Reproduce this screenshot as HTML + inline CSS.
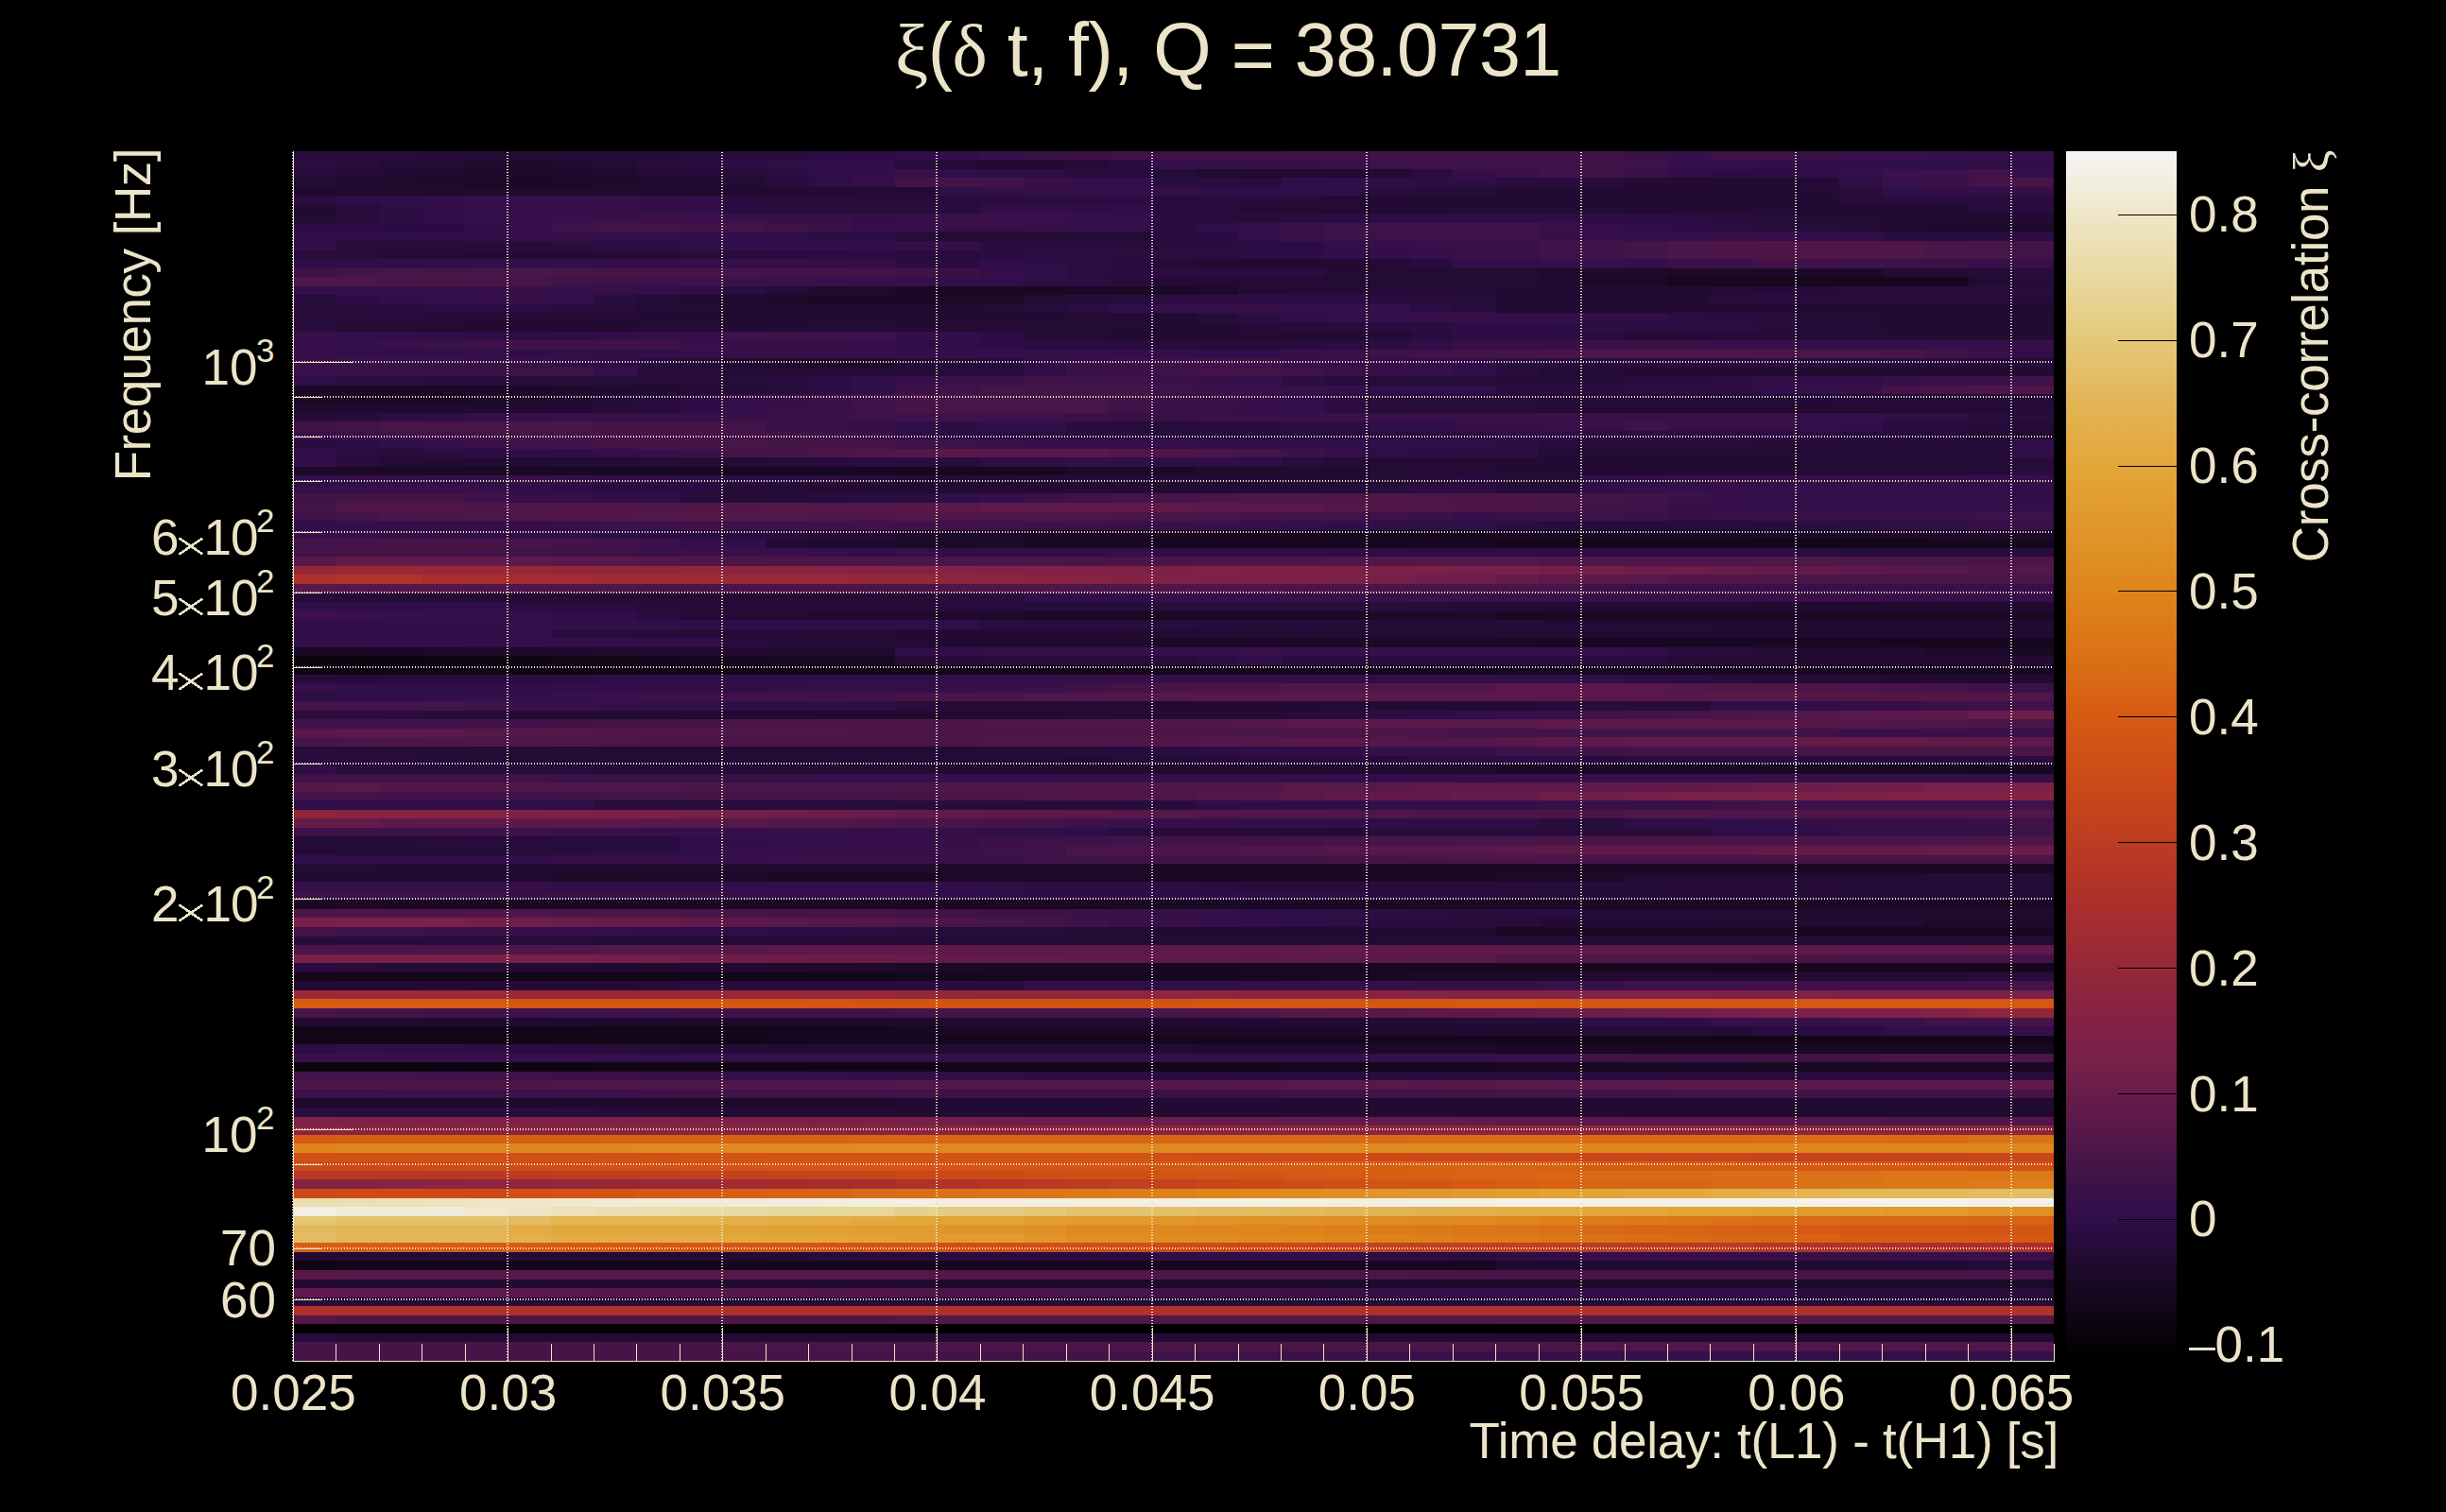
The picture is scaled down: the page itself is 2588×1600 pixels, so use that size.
<!DOCTYPE html>
<html><head><meta charset="utf-8"><title>xi</title>
<style>
html,body{margin:0;padding:0;background:#000;}
body{width:2588px;height:1600px;position:relative;overflow:hidden;font-family:"Liberation Sans",sans-serif;color:#ece4c8;}
#h{position:absolute;left:310px;top:160px;width:1863px;height:1280px;}
#h i{position:absolute;left:0;width:100%;display:block}
#cb{position:absolute;left:2186px;top:160px;width:117px;height:1280px;background:linear-gradient(180deg,#f5f5f5 0.00%,#efe6c8 5.25%,#e8d9a0 10.45%,#e4c878 15.64%,#e2b555 20.83%,#e3a638 26.02%,#e0962a 31.21%,#de851c 36.40%,#db7217 41.59%,#d65a13 46.79%,#cd4a17 51.98%,#bc3c22 57.17%,#ab2e2c 62.36%,#952838 67.55%,#802147 72.74%,#78204a 75.34%,#681c4a 77.94%,#5a184a 80.53%,#4a1548 83.13%,#3c1149 85.72%,#300e4a 88.32%,#240b36 90.91%,#1a0824 93.51%,#100515 96.11%,#050205 98.70%,#000000 100.00%)}
svg{position:absolute;left:0;top:0;shape-rendering:crispEdges}
.g{stroke:#f0ead2;stroke-width:2;stroke-dasharray:1 2}
.t{stroke:#ece4c8;stroke-width:1}
.a{stroke:#ece4c8;stroke-width:1}
.c{stroke:#000;stroke-width:1}
.l{position:absolute;white-space:nowrap;font-size:53px;line-height:60px;height:60px}
.yl{text-align:right;right:2297.5px}
.yl sup{font-size:35px;line-height:0;position:relative;top:-24px;vertical-align:baseline;margin-left:-1.5px}
.yl svg{position:static;display:inline-block;margin:0 0.5px 0 -0.5px;vertical-align:baseline;overflow:visible}
.mn{display:inline-block;width:27.5px;height:2.8px;background:#ece4c8;vertical-align:12.2px}
.xl{width:300px;margin-left:-150px;text-align:center;top:1444px}
.cl{left:2316px}
.gk{font-family:"Liberation Serif",serif}
.rot{transform-origin:0 0;transform:rotate(-90deg);text-align:right}
</style></head><body>

<div id="h"><i style="top:0px;height:9px;background:linear-gradient(90deg,#2a0d40 0px 46px,#290c3e 46px 91px,#270c3b 91px 137px,#260b39 137px 182px,#240b36 182px 228px,#230b34 228px 273px,#240b35 273px 318px,#240b37 318px 364px,#250b38 364px 409px,#260c3a 409px 455px,#270c3c 455px 500px,#290c3f 500px 546px,#2c0d43 546px 591px,#2e0d46 591px 637px,#300e4a 637px 682px,#320f4a 682px 727px,#36104a 727px 773px,#3a1049 773px 818px,#3c1149 818px 864px,#3f1249 864px 909px,#3d1149 909px 1046px,#3e1249 1046px 1136px,#3f1249 1136px 1182px,#401249 1182px 1364px,#3f1249 1364px 1409px,#3a1049 1409px 1454px,#381049 1454px 1500px,#3d1149 1500px 1591px,#3a1049 1591px 1636px,#391049 1636px 1727px,#381049 1727px 1773px,#340f4a 1773px 1863px)"></i><i style="top:9px;height:10px;background:linear-gradient(90deg,#2b0d42 0px 46px,#280c3d 46px 91px,#250b38 91px 137px,#230b34 137px 182px,#200a30 182px 228px,#1e092b 228px 273px,#210a30 273px 318px,#230b35 318px 364px,#270c3a 364px 409px,#2a0c40 409px 455px,#2d0d45 455px 500px,#2f0e48 500px 546px,#300e4a 546px 591px,#310e4a 591px 637px,#260c3a 637px 682px,#240b35 682px 727px,#220a32 727px 818px,#260b39 818px 864px,#2a0c40 864px 909px,#340f4a 909px 955px,#350f4a 955px 1000px,#371049 1000px 1046px,#381049 1046px 1091px,#3a1049 1091px 1136px,#3d1149 1136px 1182px,#3e1149 1182px 1227px,#3f1249 1227px 1273px,#401249 1273px 1364px,#421349 1364px 1409px,#3d1149 1409px 1454px,#381049 1454px 1500px,#340f4a 1500px 1545px,#330f4a 1545px 1591px,#310e4a 1591px 1682px,#300e4a 1682px 1727px,#2f0e49 1727px 1773px,#2f0e48 1773px 1818px,#300e4a 1818px 1863px)"></i><i style="top:19px;height:9px;background:linear-gradient(90deg,#260c3a 0px 46px,#240b36 46px 91px,#220a32 91px 137px,#200a2f 137px 182px,#1e092b 182px 228px,#1c0928 228px 273px,#1e092c 273px 318px,#200a30 318px 364px,#230b34 364px 409px,#250b38 409px 455px,#280c3c 455px 500px,#2b0d42 500px 546px,#2f0e48 546px 591px,#320f4a 591px 637px,#3a1049 637px 682px,#300e4a 682px 727px,#2f0e48 727px 773px,#2c0d44 773px 818px,#2a0c40 818px 864px,#280c3d 864px 909px,#260c3a 909px 955px,#200a2f 955px 1136px,#230b34 1136px 1182px,#290c3f 1182px 1227px,#360f4a 1227px 1273px,#3a1049 1273px 1318px,#401249 1318px 1364px,#3f1249 1364px 1409px,#381049 1409px 1454px,#310e4a 1454px 1500px,#2c0d43 1500px 1591px,#300e4a 1591px 1636px,#340f4a 1636px 1682px,#3d1149 1682px 1773px,#3f1249 1773px 1818px,#340f4a 1818px 1863px)"></i><i style="top:28px;height:10px;background:linear-gradient(90deg,#230b34 0px 46px,#210a31 46px 91px,#1f0a2e 91px 137px,#1e092a 137px 182px,#1c0927 182px 228px,#1a0824 228px 273px,#1c0927 273px 318px,#1e092a 318px 364px,#1f0a2e 364px 409px,#210a31 409px 455px,#230b34 455px 500px,#280c3d 500px 546px,#2e0e47 546px 591px,#340f4a 591px 637px,#441348 637px 727px,#421349 727px 773px,#3a1049 773px 818px,#360f4a 818px 864px,#310e4a 864px 909px,#2a0d40 909px 955px,#290c3f 955px 1000px,#280c3d 1000px 1046px,#300e4a 1046px 1091px,#2f0e49 1091px 1136px,#2f0e48 1136px 1273px,#290c3f 1273px 1318px,#290c3e 1318px 1364px,#280c3c 1364px 1409px,#230b34 1409px 1591px,#240b35 1591px 1636px,#2f0e48 1636px 1682px,#381049 1682px 1727px,#3a1049 1727px 1773px,#441348 1773px 1818px,#481548 1818px 1863px)"></i><i style="top:38px;height:9px;background:linear-gradient(90deg,#1f0a2d 0px 46px,#1f0a2e 46px 91px,#200a2e 91px 182px,#200a2f 182px 318px,#200a30 318px 364px,#210a30 364px 409px,#210a31 409px 500px,#220a32 500px 546px,#230b33 546px 591px,#230b35 591px 637px,#240b37 637px 682px,#300e4a 682px 727px,#340f4a 727px 955px,#320e4a 955px 1000px,#300e4a 1000px 1046px,#2f0e49 1046px 1091px,#2f0e48 1091px 1136px,#2a0d40 1136px 1182px,#260c3a 1182px 1273px,#220a32 1273px 1591px,#230b34 1591px 1636px,#280c3c 1636px 1682px,#300e4a 1682px 1727px,#310e4a 1727px 1773px,#340f4a 1773px 1818px,#360f4a 1818px 1863px)"></i><i style="top:47px;height:10px;background:linear-gradient(90deg,#2b0d42 0px 46px,#2e0e47 46px 91px,#310e4a 91px 137px,#330f4a 137px 182px,#340f4a 182px 228px,#360f4a 228px 273px,#350f4a 273px 318px,#340f4a 318px 364px,#330f4a 364px 409px,#320f4a 409px 455px,#2a0c40 455px 500px,#290c3e 500px 546px,#280c3c 546px 591px,#260c3a 591px 682px,#290c3f 682px 727px,#2a0c40 727px 773px,#2a0d41 773px 818px,#2b0d42 818px 864px,#2c0d43 864px 909px,#290c3e 909px 955px,#280c3d 955px 1000px,#270c3b 1000px 1046px,#260c3a 1046px 1091px,#230b34 1091px 1136px,#220a32 1136px 1636px,#270c3c 1636px 1682px,#290c3e 1682px 1727px,#290c3f 1727px 1773px,#2a0c40 1773px 1863px)"></i><i style="top:57px;height:9px;background:linear-gradient(90deg,#220a32 0px 46px,#270c3b 46px 91px,#2c0d44 91px 137px,#310e4a 137px 182px,#340f4a 182px 228px,#360f4a 228px 273px,#350f4a 273px 318px,#340f4a 318px 364px,#330f4a 364px 409px,#320f4a 409px 455px,#2a0c40 455px 500px,#290c3e 500px 546px,#280c3d 546px 591px,#270c3c 591px 637px,#280c3c 637px 682px,#290c3e 682px 727px,#310e4a 727px 909px,#290c3e 909px 955px,#260c3a 955px 1000px,#240b35 1000px 1046px,#230b34 1046px 1091px,#220a32 1091px 1136px,#230b35 1136px 1227px,#240b35 1227px 1591px,#210a31 1591px 1773px,#270c3c 1773px 1818px,#290c3e 1818px 1863px)"></i><i style="top:66px;height:10px;background:linear-gradient(90deg,#230b34 0px 46px,#280c3c 46px 91px,#2c0d44 91px 137px,#310e4a 137px 182px,#340f4a 182px 228px,#360f4a 228px 273px,#371049 273px 318px,#381049 318px 364px,#3a1049 364px 409px,#391049 409px 455px,#381049 455px 500px,#360f4a 500px 546px,#340f4a 546px 591px,#310e4a 591px 637px,#340f4a 637px 682px,#3a1049 682px 727px,#391049 727px 818px,#381049 818px 864px,#340f4a 864px 909px,#2a0d40 909px 955px,#290c3e 955px 1000px,#280c3c 1000px 1046px,#2a0c40 1046px 1091px,#2c0d43 1091px 1136px,#2c0d44 1136px 1182px,#2d0d45 1182px 1227px,#2e0d46 1227px 1409px,#2d0d44 1409px 1454px,#2b0d42 1454px 1500px,#2a0d40 1500px 1545px,#260c3a 1545px 1591px,#240b35 1591px 1636px,#230b34 1636px 1682px,#220a32 1682px 1727px,#210a31 1727px 1773px,#200a2f 1773px 1818px,#220a32 1818px 1863px)"></i><i style="top:76px;height:9px;background:linear-gradient(90deg,#2b0d42 0px 46px,#2b0d41 46px 91px,#2a0d40 91px 137px,#2a0c40 137px 182px,#300e4a 182px 228px,#360f4a 228px 273px,#3d1149 273px 318px,#441348 318px 409px,#431348 409px 455px,#431349 455px 500px,#3e1249 500px 546px,#3a1049 546px 591px,#360f4a 591px 682px,#3a1049 682px 727px,#391049 727px 773px,#381049 773px 818px,#36104a 818px 864px,#340f4a 864px 909px,#2a0d40 909px 955px,#300e4a 955px 1000px,#340f4a 1000px 1046px,#3a1049 1046px 1091px,#3d1149 1091px 1136px,#3f1249 1136px 1318px,#3a1049 1318px 1364px,#360f4a 1364px 1409px,#310e4a 1409px 1454px,#2e0d46 1454px 1500px,#2a0d40 1500px 1545px,#260c3a 1545px 1636px,#230b34 1636px 1682px,#200a2f 1682px 1727px,#1f092c 1727px 1773px,#1d092a 1773px 1863px)"></i><i style="top:85px;height:10px;background:linear-gradient(90deg,#310e4a 0px 182px,#330f4a 182px 228px,#360f4a 228px 273px,#350f4a 273px 409px,#330f4a 409px 455px,#320e4a 455px 500px,#300e4a 500px 546px,#2e0d47 546px 591px,#2c0d43 591px 637px,#260c3a 637px 682px,#230b34 682px 773px,#230b35 773px 864px,#240b35 864px 909px,#290c3e 909px 955px,#2a0d40 955px 1000px,#340f4a 1000px 1046px,#3a1049 1046px 1091px,#3d1149 1091px 1318px,#381049 1318px 1364px,#360f4a 1364px 1409px,#350f4a 1409px 1454px,#340f4a 1454px 1500px,#350f4a 1500px 1545px,#360f4a 1545px 1591px,#310e4a 1591px 1636px,#300e4a 1636px 1682px,#2a0d40 1682px 1727px,#280c3d 1727px 1773px,#290c3f 1773px 1818px,#2c0d43 1818px 1863px)"></i><i style="top:95px;height:10px;background:linear-gradient(90deg,#310e4a 0px 46px,#280c3c 46px 182px,#270c3c 182px 273px,#2a0c3f 273px 318px,#2c0d43 318px 364px,#2e0d47 364px 409px,#300e4a 409px 455px,#320f4a 455px 637px,#340f4a 637px 727px,#2a0d40 727px 773px,#290c3f 773px 818px,#290c3e 818px 864px,#280c3c 864px 909px,#290c3e 909px 955px,#2a0d40 955px 1000px,#2c0d43 1000px 1091px,#340f4a 1091px 1136px,#360f4a 1136px 1182px,#381049 1182px 1227px,#3a1049 1227px 1318px,#3f1249 1318px 1364px,#401249 1364px 1409px,#441348 1409px 1454px,#4a1548 1454px 1500px,#4b1548 1500px 1545px,#4c1548 1545px 1591px,#4e1649 1591px 1727px,#4a1548 1727px 1773px,#481548 1773px 1818px,#441348 1818px 1863px)"></i><i style="top:105px;height:9px;background:linear-gradient(90deg,#270c3c 0px 46px,#270c3a 46px 91px,#260b39 91px 137px,#250b38 137px 182px,#240b36 182px 228px,#240b35 228px 273px,#250b37 273px 318px,#260b39 318px 364px,#270c3a 364px 409px,#280c3c 409px 455px,#290c3e 455px 500px,#290c3f 500px 546px,#2a0d40 546px 591px,#2b0d41 591px 637px,#280c3c 637px 682px,#290c3e 682px 727px,#2a0d40 727px 773px,#2c0d43 773px 818px,#2b0d42 818px 909px,#2b0d41 909px 955px,#2c0d43 955px 1000px,#2d0d46 1000px 1046px,#2f0e48 1046px 1091px,#300e4a 1091px 1136px,#310e4a 1136px 1182px,#350f4a 1182px 1227px,#381049 1227px 1318px,#3f1249 1318px 1364px,#401249 1364px 1409px,#441348 1409px 1454px,#4a1548 1454px 1500px,#4b1548 1500px 1545px,#4c1548 1545px 1591px,#4e1649 1591px 1727px,#4a1548 1727px 1773px,#481548 1773px 1818px,#441348 1818px 1863px)"></i><i style="top:114px;height:10px;background:linear-gradient(90deg,#300e4a 0px 46px,#310e4a 46px 137px,#320e4a 137px 182px,#320f4a 182px 228px,#330f4a 228px 409px,#340f4a 409px 637px,#2c0d43 637px 682px,#2a0c40 682px 727px,#310e4a 727px 773px,#2e0e47 773px 818px,#2b0d42 818px 864px,#290c3e 864px 909px,#250b38 909px 955px,#220a32 955px 1136px,#240b35 1136px 1182px,#290c3f 1182px 1227px,#310e4a 1227px 1273px,#300e4a 1273px 1318px,#360f4a 1318px 1364px,#381049 1364px 1409px,#360f4a 1409px 1454px,#3a1049 1454px 1545px,#421349 1545px 1591px,#401249 1591px 1636px,#3f1249 1636px 1682px,#3c1149 1682px 1727px,#3a1049 1727px 1773px,#381049 1773px 1863px)"></i><i style="top:124px;height:9px;background:linear-gradient(90deg,#3f1249 0px 46px,#441348 46px 91px,#481548 91px 137px,#491548 137px 228px,#4a1548 228px 273px,#491548 273px 318px,#481548 318px 364px,#481448 364px 409px,#471448 409px 455px,#461448 455px 546px,#451448 546px 591px,#441348 591px 637px,#3f1249 637px 682px,#3a1049 682px 727px,#360f4a 727px 773px,#310e4a 773px 818px,#2a0d40 818px 909px,#2d0d44 909px 955px,#2c0d43 955px 1000px,#2b0d42 1000px 1046px,#2a0d40 1046px 1091px,#240b37 1091px 1136px,#240b35 1136px 1182px,#230b35 1182px 1227px,#230b34 1227px 1318px,#1f092d 1318px 1454px,#1c0928 1454px 1591px,#1d092a 1591px 1682px,#230b34 1682px 1727px,#240b35 1727px 1773px,#250b38 1773px 1818px,#280c3c 1818px 1863px)"></i><i style="top:133px;height:10px;background:linear-gradient(90deg,#4e1649 0px 46px,#4d1648 46px 91px,#4c1548 91px 137px,#4b1548 137px 182px,#491548 182px 228px,#471448 228px 273px,#3f1249 273px 318px,#3e1149 318px 364px,#3d1149 364px 409px,#3c1149 409px 455px,#3b1149 455px 500px,#3a1049 500px 546px,#391049 546px 591px,#381049 591px 637px,#360f4a 637px 682px,#340f4a 682px 727px,#300e4a 727px 773px,#2e0d46 773px 818px,#2c0d43 818px 864px,#280c3c 864px 909px,#240b35 909px 955px,#230b35 955px 1091px,#230b34 1091px 1318px,#200a2f 1318px 1364px,#1c0928 1364px 1454px,#180721 1454px 1500px,#16071e 1500px 1682px,#180721 1682px 1773px,#220a32 1773px 1818px,#250b38 1818px 1863px)"></i><i style="top:143px;height:9px;background:linear-gradient(90deg,#340f4a 0px 46px,#350f4a 46px 91px,#360f4a 91px 137px,#361049 137px 182px,#371049 182px 228px,#381049 228px 273px,#361049 273px 318px,#340f4a 318px 364px,#320f4a 364px 409px,#300e4a 409px 455px,#2a0d40 455px 500px,#250b37 500px 546px,#200a2f 546px 637px,#1b0826 637px 682px,#1a0824 682px 909px,#1c0928 909px 955px,#1e092b 955px 1000px,#230b35 1000px 1046px,#240b35 1046px 1091px,#240b36 1091px 1136px,#240b37 1136px 1273px,#220a32 1273px 1500px,#230b34 1500px 1545px,#240b37 1545px 1591px,#250b38 1591px 1636px,#280c3c 1636px 1773px,#290c3e 1773px 1818px,#2a0c40 1818px 1863px)"></i><i style="top:152px;height:10px;background:linear-gradient(90deg,#270c3c 0px 46px,#2c0d43 46px 91px,#300e4a 91px 137px,#320f4a 137px 182px,#350f4a 182px 228px,#371049 228px 273px,#320f4a 273px 318px,#2a0d40 318px 364px,#250b37 364px 409px,#200a2f 409px 500px,#1e092a 500px 546px,#1b0826 546px 682px,#1c0928 682px 773px,#230b34 773px 818px,#260b39 818px 864px,#290c3f 864px 909px,#2c0d43 909px 955px,#2d0d44 955px 1000px,#2e0d46 1000px 1046px,#2d0d44 1046px 1091px,#2c0d43 1091px 1136px,#2a0c40 1136px 1182px,#280c3d 1182px 1227px,#260c3a 1227px 1273px,#220a32 1273px 1500px,#270c3c 1500px 1545px,#2a0d40 1545px 1591px,#290c3e 1591px 1773px,#260c3a 1773px 1818px,#250b38 1818px 1863px)"></i><i style="top:162px;height:9px;background:linear-gradient(90deg,#270c3c 0px 46px,#280c3d 46px 91px,#290c3f 91px 137px,#2b0d41 137px 182px,#2c0d43 182px 228px,#2d0d44 228px 273px,#2a0c40 273px 318px,#270c3b 318px 364px,#240b37 364px 409px,#230b35 409px 455px,#220a32 455px 637px,#200a2f 637px 682px,#220a32 682px 727px,#240b36 727px 773px,#260c3a 773px 818px,#2c0d43 818px 864px,#300e4a 864px 909px,#340f4a 909px 1000px,#381049 1000px 1136px,#340f4a 1136px 1182px,#2c0d43 1182px 1227px,#290c3f 1227px 1273px,#220a32 1273px 1591px,#210a31 1591px 1863px)"></i><i style="top:171px;height:10px;background:linear-gradient(90deg,#270c3c 0px 46px,#270c3b 46px 91px,#260c3a 91px 137px,#260b39 137px 182px,#250b38 182px 228px,#240b37 228px 273px,#240b35 273px 318px,#230b34 318px 364px,#220a33 364px 409px,#220a32 409px 455px,#210a30 455px 500px,#210a31 500px 546px,#220a32 546px 637px,#210a30 637px 682px,#220a32 682px 727px,#220a33 727px 773px,#220b33 773px 818px,#230b33 818px 864px,#230b34 864px 909px,#220a32 909px 955px,#260c3a 955px 1000px,#2c0d43 1000px 1046px,#300e4a 1046px 1091px,#320e4a 1091px 1136px,#340f4a 1136px 1182px,#360f4a 1182px 1273px,#340f4a 1273px 1364px,#310e4a 1364px 1454px,#2c0d43 1454px 1500px,#290c3f 1500px 1545px,#280c3c 1545px 1591px,#240b37 1591px 1682px,#220a32 1682px 1863px)"></i><i style="top:181px;height:10px;background:linear-gradient(90deg,#280c3c 0px 46px,#230b34 46px 91px,#230b33 91px 137px,#220b33 137px 182px,#220a33 182px 228px,#220a32 228px 273px,#220a33 273px 318px,#220b33 318px 364px,#230b34 364px 455px,#230b35 455px 591px,#240b35 591px 682px,#230b34 682px 909px,#220a32 909px 1000px,#250b38 1000px 1046px,#260c3a 1046px 1091px,#280c3c 1091px 1136px,#290c3e 1136px 1182px,#2b0d42 1182px 1227px,#2e0d46 1227px 1318px,#2d0d45 1318px 1364px,#2d0d44 1364px 1409px,#2c0d44 1409px 1454px,#2c0d43 1454px 1545px,#280c3c 1545px 1591px,#260c3a 1591px 1636px,#240b35 1636px 1682px,#220a32 1682px 1863px)"></i><i style="top:191px;height:9px;background:linear-gradient(90deg,#360f4a 0px 46px,#330f4a 46px 91px,#310e4a 91px 137px,#2f0e48 137px 182px,#2e0d46 182px 228px,#2d0d44 228px 273px,#2f0e48 273px 318px,#310e4a 318px 364px,#330f4a 364px 409px,#360f4a 409px 455px,#3f1249 455px 500px,#3e1249 500px 546px,#3d1149 546px 637px,#340f4a 637px 682px,#310e4a 682px 727px,#2c0d43 727px 773px,#240b37 773px 818px,#230b34 818px 864px,#220b33 864px 909px,#220a32 909px 1136px,#240b37 1136px 1182px,#290c3e 1182px 1227px,#2d0d44 1227px 1364px,#290c3f 1364px 1409px,#250b38 1409px 1591px,#230b35 1591px 1773px,#230b34 1773px 1863px)"></i><i style="top:200px;height:10px;background:linear-gradient(90deg,#360f4a 0px 46px,#371049 46px 91px,#391049 91px 137px,#3a1149 137px 182px,#3c1149 182px 228px,#401249 228px 318px,#3f1249 318px 409px,#391049 409px 455px,#381049 455px 500px,#371049 500px 591px,#360f4a 591px 637px,#310e4a 637px 727px,#2e0d46 727px 773px,#2a0d40 773px 909px,#280c3c 909px 955px,#270c3b 955px 1000px,#260c3a 1000px 1046px,#290c3f 1046px 1091px,#2a0d41 1091px 1136px,#2c0d43 1136px 1182px,#310e4a 1182px 1227px,#360f4a 1227px 1318px,#381049 1318px 1364px,#3a1049 1364px 1500px,#381049 1500px 1545px,#371049 1545px 1591px,#360f4a 1591px 1636px,#350f4a 1636px 1682px,#340f4a 1682px 1863px)"></i><i style="top:210px;height:9px;background:linear-gradient(90deg,#340f4a 0px 46px,#330f4a 46px 137px,#320f4a 137px 182px,#320e4a 182px 228px,#310e4a 228px 273px,#320f4a 273px 318px,#330f4a 318px 409px,#340f4a 409px 455px,#350f4a 455px 591px,#360f4a 591px 727px,#350f4a 727px 773px,#340f4a 773px 955px,#330f4a 955px 1000px,#310e4a 1000px 1046px,#381049 1046px 1091px,#3a1049 1091px 1136px,#3d1149 1136px 1182px,#401249 1182px 1227px,#441348 1227px 1318px,#481548 1318px 1364px,#4a1548 1364px 1409px,#4c1548 1409px 1591px,#4a1548 1591px 1682px,#471448 1682px 1727px,#401249 1727px 1773px,#3a1049 1773px 1818px,#310e4a 1818px 1863px)"></i><i style="top:219px;height:10px;background:linear-gradient(90deg,#3a1049 0px 273px,#340f4a 273px 318px,#2f0e48 318px 364px,#2a0d40 364px 409px,#260c3a 409px 455px,#210a30 455px 500px,#200a2f 500px 546px,#1f0a2e 546px 591px,#1f092d 591px 637px,#250b38 637px 682px,#260c3a 682px 727px,#290c3f 727px 773px,#300e4a 773px 818px,#3a1049 818px 864px,#3b1149 864px 909px,#3d1149 909px 955px,#3f1249 955px 1000px,#401249 1000px 1046px,#3a1049 1046px 1091px,#381049 1091px 1136px,#360f4a 1136px 1182px,#340f4a 1182px 1227px,#300e4a 1227px 1273px,#2a0d40 1273px 1318px,#2a0c40 1318px 1364px,#290c3f 1364px 1454px,#2a0c3f 1454px 1500px,#2a0c40 1500px 1545px,#2a0d40 1545px 1636px,#290c3f 1636px 1682px,#290c3e 1682px 1727px,#280c3d 1727px 1773px,#270c3b 1773px 1818px,#260c3a 1818px 1863px)"></i><i style="top:229px;height:9px;background:linear-gradient(90deg,#3a1049 0px 228px,#3e1149 228px 318px,#340f4a 318px 364px,#290c3e 364px 409px,#280c3c 409px 455px,#240b35 455px 682px,#260c3a 682px 727px,#290c3f 727px 773px,#310e4a 773px 818px,#3a1049 818px 864px,#3c1149 864px 909px,#3f1249 909px 955px,#421349 955px 1046px,#3d1149 1046px 1091px,#3a1049 1091px 1136px,#360f4a 1136px 1182px,#340f4a 1182px 1227px,#300e4a 1227px 1273px,#290c3f 1273px 1318px,#240b37 1318px 1364px,#250b38 1364px 1409px,#220a32 1409px 1591px,#200a2f 1591px 1773px,#220a32 1773px 1863px)"></i><i style="top:238px;height:10px;background:linear-gradient(90deg,#300e4a 0px 46px,#2e0d47 46px 91px,#2c0d43 91px 137px,#2a0c40 137px 182px,#280c3c 182px 228px,#260c3a 228px 500px,#2a0c3f 500px 546px,#2d0d45 546px 591px,#300e4a 591px 637px,#360f4a 637px 682px,#3a1049 682px 727px,#3c1149 727px 773px,#3f1249 773px 909px,#3a1049 909px 955px,#371049 955px 1000px,#340f4a 1000px 1046px,#2e0d46 1046px 1091px,#290c3f 1091px 1136px,#260c3a 1136px 1273px,#240b37 1273px 1318px,#250b37 1318px 1364px,#250b38 1364px 1409px,#280c3c 1409px 1454px,#2a0c40 1454px 1500px,#2c0d43 1500px 1545px,#2f0e48 1545px 1591px,#310e4a 1591px 1682px,#381049 1682px 1727px,#3a1049 1727px 1818px,#3f1249 1818px 1863px)"></i><i style="top:248px;height:9px;background:linear-gradient(90deg,#1a0824 0px 46px,#1a0825 46px 91px,#1b0825 91px 137px,#1b0826 137px 182px,#1c0827 182px 228px,#1c0928 228px 273px,#1e092c 273px 318px,#210a30 318px 364px,#220a33 364px 409px,#230b35 409px 455px,#250b38 455px 500px,#290c3e 500px 546px,#2c0d44 546px 591px,#300e4a 591px 637px,#3a1049 637px 682px,#3f1249 682px 727px,#441348 727px 909px,#3f1249 909px 955px,#3c1149 955px 1000px,#3a1049 1000px 1046px,#381049 1046px 1091px,#360f4a 1091px 1136px,#300e4a 1136px 1273px,#290c3f 1273px 1318px,#2a0c40 1318px 1364px,#2a0d40 1364px 1409px,#2b0d42 1409px 1454px,#2c0d43 1454px 1500px,#2d0d44 1500px 1545px,#310e4a 1545px 1591px,#340f4a 1591px 1636px,#381049 1636px 1682px,#441348 1682px 1727px,#481548 1727px 1773px,#4c1548 1773px 1818px,#4e1649 1818px 1863px)"></i><i style="top:257px;height:10px;background:linear-gradient(90deg,#1a0824 0px 46px,#1b0825 46px 91px,#1c0827 91px 137px,#1c0928 137px 182px,#1d092a 182px 228px,#1f0a2d 228px 273px,#220a32 273px 318px,#250b37 318px 364px,#280c3c 364px 409px,#2e0d46 409px 455px,#340f4a 455px 500px,#381049 500px 546px,#3c1149 546px 591px,#401249 591px 637px,#471448 637px 682px,#481548 682px 864px,#441348 864px 909px,#3d1149 909px 955px,#3a1149 955px 1000px,#381049 1000px 1046px,#310e4a 1046px 1091px,#2e0d46 1091px 1136px,#280c3c 1136px 1273px,#270c3c 1273px 1318px,#260c3a 1318px 1364px,#250b38 1364px 1409px,#250b37 1409px 1591px,#240b37 1591px 1636px,#250b37 1636px 1818px,#250b38 1818px 1863px)"></i><i style="top:267px;height:10px;background:linear-gradient(90deg,#1f092d 0px 46px,#1f0a2d 46px 91px,#200a2e 91px 137px,#200a2f 137px 182px,#200a30 182px 228px,#210a30 228px 273px,#230b35 273px 318px,#260c3a 318px 364px,#290c3f 364px 409px,#2f0e48 409px 455px,#340f4a 455px 500px,#371049 500px 546px,#3a1049 546px 591px,#3d1149 591px 637px,#471448 637px 682px,#481548 682px 864px,#401249 864px 909px,#3a1049 909px 955px,#381049 955px 1000px,#360f4a 1000px 1046px,#340f4a 1046px 1091px,#2c0d43 1091px 1136px,#280c3c 1136px 1182px,#270c3b 1182px 1227px,#260c3a 1227px 1318px,#230b34 1318px 1364px,#220a32 1364px 1682px,#230b35 1682px 1727px,#240b36 1727px 1773px,#240b37 1773px 1818px,#250b38 1818px 1863px)"></i><i style="top:277px;height:9px;background:linear-gradient(90deg,#260c3a 0px 46px,#290c3f 46px 91px,#2c0d43 91px 137px,#2f0e48 137px 182px,#320f4a 182px 228px,#360f4a 228px 273px,#371049 273px 364px,#381049 364px 409px,#391049 409px 455px,#3a1049 455px 500px,#3b1149 500px 546px,#3c1149 546px 591px,#3d1149 591px 727px,#3b1149 727px 773px,#3a1149 773px 818px,#391049 818px 864px,#381049 864px 955px,#391049 955px 1091px,#3a1049 1091px 1136px,#381049 1136px 1182px,#391049 1182px 1227px,#3a1049 1227px 1545px,#381049 1545px 1591px,#340f4a 1591px 1682px,#2f0e48 1682px 1773px,#290c3f 1773px 1818px,#280c3c 1818px 1863px)"></i><i style="top:286px;height:10px;background:linear-gradient(90deg,#3f1249 0px 46px,#441348 46px 91px,#481548 91px 137px,#491548 137px 228px,#4a1548 228px 273px,#491548 273px 318px,#471448 318px 364px,#461448 364px 409px,#441348 409px 455px,#421349 455px 500px,#3a1049 500px 546px,#381049 546px 591px,#360f4a 591px 637px,#300e4a 637px 682px,#2e0d46 682px 727px,#300e4a 727px 818px,#2a0d40 818px 864px,#280c3c 864px 955px,#290c3e 955px 1000px,#2a0c40 1000px 1046px,#2b0d41 1046px 1091px,#2c0d43 1091px 1136px,#300e4a 1136px 1182px,#320e4a 1182px 1227px,#340f4a 1227px 1273px,#381049 1273px 1318px,#391049 1318px 1364px,#3a1049 1364px 1409px,#3f1249 1409px 1454px,#3a1049 1454px 1591px,#360f4a 1591px 1636px,#310e4a 1636px 1682px,#290c3f 1682px 1773px,#250b38 1773px 1818px,#240b35 1818px 1863px)"></i><i style="top:296px;height:9px;background:linear-gradient(90deg,#3a1049 0px 46px,#3c1149 46px 91px,#3f1249 91px 137px,#411349 137px 182px,#441348 182px 228px,#471448 228px 273px,#461448 273px 364px,#451448 364px 455px,#441348 455px 500px,#421349 500px 546px,#3f1249 546px 591px,#3c1149 591px 637px,#2e0d46 637px 682px,#2c0d43 682px 727px,#2b0d42 727px 773px,#2b0d41 773px 818px,#2a0d40 818px 864px,#2a0c40 864px 909px,#290c3f 909px 1182px,#2a0d40 1182px 1227px,#2b0d42 1227px 1273px,#300e4a 1273px 1318px,#2f0e48 1318px 1364px,#2e0d46 1364px 1591px,#2c0d43 1591px 1636px,#280c3c 1636px 1773px,#240b35 1773px 1818px,#230b34 1818px 1863px)"></i><i style="top:305px;height:10px;background:linear-gradient(90deg,#2a0d40 0px 46px,#2d0d45 46px 91px,#300e4a 91px 137px,#350f4a 137px 182px,#3a1049 182px 228px,#3f1249 228px 273px,#421349 273px 318px,#441348 318px 364px,#461448 364px 409px,#471448 409px 455px,#481548 455px 500px,#471448 500px 546px,#461448 546px 591px,#441348 591px 637px,#3f1249 637px 682px,#3d1149 682px 727px,#3a1149 727px 773px,#381049 773px 818px,#371049 818px 864px,#360f4a 864px 909px,#340f4a 909px 955px,#330f4a 955px 1000px,#310e4a 1000px 1091px,#300e4a 1091px 1182px,#2f0e49 1182px 1227px,#2f0e48 1227px 1273px,#2d0d44 1273px 1318px,#290c3e 1318px 1364px,#270c3c 1364px 1545px,#230b34 1545px 1591px,#250b38 1591px 1818px,#310e4a 1818px 1863px)"></i><i style="top:315px;height:9px;background:linear-gradient(90deg,#2f0e48 0px 46px,#2b0d42 46px 91px,#280c3c 91px 137px,#2a0d40 137px 182px,#2c0d44 182px 228px,#2f0e48 228px 273px,#310e4a 273px 318px,#340f4a 318px 364px,#371049 364px 409px,#3a1049 409px 455px,#441348 455px 500px,#481448 500px 546px,#4c1548 546px 591px,#501649 591px 637px,#541749 637px 682px,#58184a 682px 864px,#521649 864px 909px,#4e1649 909px 955px,#4a1548 955px 1000px,#471448 1000px 1046px,#3d1149 1046px 1091px,#340f4a 1091px 1136px,#2e0e47 1136px 1182px,#2d0d46 1182px 1227px,#2d0d44 1227px 1318px,#240b37 1318px 1364px,#230b34 1364px 1591px,#240b37 1591px 1636px,#250b37 1636px 1773px,#250b38 1773px 1818px,#310e4a 1818px 1863px)"></i><i style="top:324px;height:10px;background:linear-gradient(90deg,#300e4a 0px 46px,#290c3e 46px 91px,#240b37 91px 137px,#240b36 137px 182px,#230b35 182px 228px,#230b34 228px 318px,#230b35 318px 364px,#240b36 364px 455px,#240b37 455px 500px,#260c3a 500px 546px,#280c3d 546px 591px,#2a0d40 591px 682px,#280c3c 682px 727px,#300e4a 727px 818px,#340f4a 818px 864px,#300e4a 864px 909px,#2f0e48 909px 1046px,#280c3c 1046px 1091px,#260b39 1091px 1136px,#240b35 1136px 1182px,#230b35 1182px 1227px,#230b34 1227px 1318px,#220b33 1318px 1364px,#220a32 1364px 1591px,#230b34 1591px 1727px,#250b38 1727px 1818px,#280c3c 1818px 1863px)"></i><i style="top:334px;height:9px;background:linear-gradient(90deg,#1c0928 0px 46px,#1c0827 46px 91px,#1b0826 91px 137px,#1b0825 137px 182px,#1a0825 182px 228px,#1a0824 228px 273px,#1a0823 273px 318px,#190822 318px 364px,#180822 364px 409px,#180721 409px 637px,#16071e 637px 682px,#180721 682px 818px,#1c0928 818px 955px,#200a2f 955px 1136px,#230b34 1136px 1182px,#230b35 1182px 1227px,#240b35 1227px 1273px,#220a32 1273px 1591px,#230b34 1591px 1636px,#230b35 1636px 1682px,#240b36 1682px 1727px,#250b38 1727px 1773px,#260c3a 1773px 1818px,#280c3c 1818px 1863px)"></i><i style="top:343px;height:10px;background:linear-gradient(90deg,#300e4a 0px 46px,#310e4a 46px 91px,#320e4a 91px 137px,#320f4a 137px 182px,#330f4a 182px 228px,#340f4a 228px 273px,#320f4a 273px 318px,#300e4a 318px 364px,#2f0e48 364px 409px,#2d0d45 409px 455px,#2b0d42 455px 500px,#2a0d41 500px 546px,#2a0c3f 546px 591px,#290c3e 591px 637px,#220a32 637px 682px,#230b34 682px 955px,#230b35 955px 1000px,#240b35 1000px 1046px,#240b36 1046px 1091px,#240b37 1091px 1136px,#250b38 1136px 1182px,#270c3b 1182px 1227px,#290c3f 1227px 1273px,#250b38 1273px 1364px,#300e4a 1364px 1409px,#310e4a 1409px 1454px,#340f4a 1454px 1500px,#360f4a 1500px 1863px)"></i><i style="top:353px;height:9px;background:linear-gradient(90deg,#340f4a 0px 46px,#36104a 46px 91px,#381049 91px 228px,#310e4a 228px 273px,#2e0d46 273px 318px,#290c3f 318px 455px,#250b38 455px 500px,#240b36 500px 546px,#230b35 546px 591px,#230b34 591px 637px,#220a32 637px 682px,#230b34 682px 955px,#230b35 955px 1000px,#240b36 1000px 1046px,#240b37 1046px 1091px,#250b38 1091px 1136px,#280c3c 1136px 1182px,#2c0d43 1182px 1273px,#250b38 1273px 1364px,#300e4a 1364px 1409px,#340f4a 1409px 1454px,#350f4a 1454px 1500px,#360f4a 1500px 1818px,#310e4a 1818px 1863px)"></i><i style="top:362px;height:10px;background:linear-gradient(90deg,#3f1249 0px 46px,#441348 46px 182px,#3d1149 182px 228px,#360f4a 228px 273px,#340f4a 273px 318px,#310e4a 318px 364px,#2f0e48 364px 409px,#280c3c 409px 455px,#250b38 455px 500px,#270c3b 500px 546px,#280c3d 546px 591px,#2a0d40 591px 682px,#300e4a 682px 727px,#340f4a 727px 773px,#3a1049 773px 818px,#3f1249 818px 864px,#441348 864px 909px,#471448 909px 955px,#4a1548 955px 1000px,#4e1649 1000px 1182px,#4d1648 1182px 1227px,#4c1548 1227px 1318px,#481548 1318px 1364px,#441348 1364px 1409px,#421349 1409px 1454px,#3d1149 1454px 1500px,#381049 1500px 1545px,#340f4a 1545px 1818px,#310e4a 1818px 1863px)"></i><i style="top:372px;height:10px;background:linear-gradient(90deg,#441348 0px 46px,#4e1649 46px 182px,#4c1548 182px 228px,#4e1649 228px 273px,#4f1649 273px 318px,#501649 318px 364px,#511649 364px 409px,#521649 409px 455px,#521749 455px 500px,#531749 500px 591px,#541749 591px 637px,#561749 637px 682px,#58184a 682px 727px,#5e194a 727px 955px,#5c184a 955px 1091px,#541749 1091px 1136px,#521649 1136px 1182px,#4f1649 1182px 1227px,#4c1548 1227px 1318px,#481548 1318px 1364px,#401249 1364px 1409px,#3d1149 1409px 1454px,#381049 1454px 1500px,#36104a 1500px 1545px,#340f4a 1545px 1863px)"></i><i style="top:382px;height:9px;background:linear-gradient(90deg,#3f1249 0px 46px,#441348 46px 91px,#4a1548 91px 137px,#4b1548 137px 182px,#4d1648 182px 228px,#4e1649 228px 273px,#501649 273px 318px,#521649 318px 364px,#541749 364px 409px,#561749 409px 455px,#541749 455px 500px,#531749 500px 546px,#521749 546px 591px,#521649 591px 637px,#541749 637px 682px,#521649 682px 727px,#511649 727px 773px,#501649 773px 818px,#4e1649 818px 864px,#4c1548 864px 909px,#4a1548 909px 955px,#481548 955px 1000px,#471448 1000px 1046px,#441348 1046px 1091px,#421349 1091px 1136px,#3d1149 1136px 1182px,#3a1149 1182px 1227px,#381049 1227px 1273px,#3a1049 1273px 1318px,#3b1149 1318px 1364px,#3d1149 1364px 1409px,#3a1149 1409px 1454px,#381049 1454px 1500px,#391049 1500px 1545px,#3a1049 1545px 1773px,#3d1149 1773px 1863px)"></i><i style="top:391px;height:10px;background:linear-gradient(90deg,#310e4a 0px 46px,#320f4a 46px 91px,#330f4a 91px 137px,#340f4a 137px 182px,#350f4a 182px 228px,#360f4a 228px 273px,#381049 273px 318px,#3a1149 318px 364px,#3c1149 364px 409px,#3f1249 409px 455px,#3d1149 455px 546px,#3e1249 546px 591px,#3f1249 591px 637px,#401249 637px 682px,#3f1249 682px 727px,#3d1149 727px 773px,#3c1149 773px 818px,#3b1149 818px 864px,#3a1049 864px 909px,#381049 909px 955px,#36104a 955px 1000px,#340f4a 1000px 1046px,#320e4a 1046px 1091px,#300e4a 1091px 1136px,#2f0e48 1136px 1273px,#2a0d40 1273px 1318px,#290c3e 1318px 1364px,#280c3c 1364px 1500px,#270c3c 1500px 1545px,#290c3f 1545px 1591px,#2a0d40 1591px 1636px,#2c0d44 1636px 1682px,#2f0e48 1682px 1773px,#360f4a 1773px 1818px,#3a1049 1818px 1863px)"></i><i style="top:401px;height:9px;background:linear-gradient(90deg,#360f4a 0px 46px,#350f4a 46px 91px,#340f4a 91px 137px,#330f4a 137px 182px,#320f4a 182px 228px,#310e4a 228px 273px,#300e4a 273px 318px,#2e0e47 318px 364px,#2d0d44 364px 409px,#2b0d42 409px 455px,#290c3f 455px 500px,#270c3c 500px 546px,#250b38 546px 591px,#240b35 591px 637px,#1f092d 637px 682px,#1d092a 682px 727px,#1c0827 727px 773px,#1a0824 773px 909px,#180721 909px 955px,#180720 955px 1000px,#170720 1000px 1046px,#17071f 1046px 1091px,#16071f 1091px 1136px,#16071e 1136px 1273px,#1a0824 1273px 1364px,#1b0825 1364px 1454px,#1b0826 1454px 1545px,#1c0827 1545px 1591px,#1c0927 1591px 1636px,#1c0928 1636px 1727px,#1d0929 1727px 1818px,#1d092a 1818px 1863px)"></i><i style="top:410px;height:10px;background:linear-gradient(90deg,#421349 0px 46px,#441348 46px 91px,#471448 91px 182px,#481448 182px 228px,#481548 228px 273px,#441348 273px 318px,#401249 318px 364px,#3d1149 364px 409px,#340f4a 409px 455px,#300e4a 455px 500px,#240b35 500px 546px,#210a31 546px 591px,#1f092d 591px 637px,#1c0928 637px 682px,#1d092a 682px 773px,#1a0824 773px 909px,#180721 909px 1273px,#16071e 1273px 1318px,#13061a 1318px 1727px,#16071e 1727px 1863px)"></i><i style="top:420px;height:9px;background:linear-gradient(90deg,#441348 0px 137px,#431348 137px 182px,#431349 182px 228px,#421349 228px 273px,#401249 273px 318px,#3e1149 318px 364px,#3c1149 364px 409px,#3a1049 409px 455px,#381049 455px 500px,#36104a 500px 546px,#340f4a 546px 591px,#310e4a 591px 637px,#340f4a 637px 682px,#310e4a 682px 727px,#320f4a 727px 773px,#330f4a 773px 864px,#340f4a 864px 909px,#2f0e48 909px 1182px,#2e0d46 1182px 1227px,#2d0d44 1227px 1591px,#2a0d40 1591px 1636px,#280c3c 1636px 1818px,#290c3f 1818px 1863px)"></i><i style="top:429px;height:10px;background:linear-gradient(90deg,#5a184a 0px 46px,#621a4a 46px 228px,#5e194a 228px 273px,#58184a 273px 318px,#561749 318px 364px,#531749 364px 409px,#501649 409px 455px,#4c1548 455px 500px,#4b1548 500px 591px,#4a1548 591px 637px,#4c1548 637px 682px,#4a1548 682px 909px,#4c1548 909px 955px,#4d1548 955px 1000px,#4d1648 1000px 1046px,#4e1648 1046px 1091px,#4e1649 1091px 1136px,#521649 1136px 1182px,#531749 1182px 1227px,#541749 1227px 1318px,#501649 1318px 1454px,#4e1649 1454px 1682px,#4a1548 1682px 1818px,#4c1548 1818px 1863px)"></i><i style="top:439px;height:9px;background:linear-gradient(90deg,#952838 0px 46px,#972937 46px 228px,#952838 228px 273px,#932739 273px 318px,#92273a 318px 364px,#90263b 364px 409px,#8f263c 409px 455px,#8a2440 455px 500px,#892440 500px 546px,#882442 546px 591px,#862342 591px 637px,#842244 637px 682px,#822246 682px 727px,#812146 727px 773px,#812147 773px 818px,#802147 818px 864px,#7f2147 864px 955px,#7f2148 955px 1000px,#7e2148 1000px 1046px,#7d2148 1046px 1091px,#7c2048 1091px 1136px,#7b2049 1136px 1182px,#7a2049 1182px 1227px,#78204a 1227px 1318px,#741f4a 1318px 1364px,#721e4a 1364px 1409px,#6d1d4a 1409px 1500px,#661c4a 1500px 1545px,#621a4a 1545px 1591px,#611a4a 1591px 1636px,#5e194a 1636px 1682px,#58184a 1682px 1727px,#561749 1727px 1773px,#521649 1773px 1818px,#541749 1818px 1863px)"></i><i style="top:448px;height:10px;background:linear-gradient(90deg,#ae312a 0px 46px,#b03229 46px 137px,#a92d2d 137px 182px,#a72d2e 182px 228px,#a42c30 228px 273px,#a22c31 273px 318px,#a02b32 318px 364px,#9e2a33 364px 409px,#9c2a34 409px 455px,#992936 455px 500px,#982936 500px 546px,#962837 546px 591px,#952838 591px 637px,#91273b 637px 682px,#8d253e 682px 727px,#8b253f 727px 773px,#892440 773px 818px,#872342 818px 864px,#842244 864px 909px,#802147 909px 955px,#7e2148 955px 1000px,#7d2148 1000px 1046px,#7c2048 1046px 1091px,#7b2049 1091px 1136px,#751f4a 1136px 1182px,#721e4a 1182px 1227px,#6e1e4a 1227px 1273px,#661c4a 1273px 1318px,#5e194a 1318px 1364px,#5c184a 1364px 1409px,#58184a 1409px 1454px,#521649 1454px 1545px,#4e1649 1545px 1591px,#4c1548 1591px 1636px,#4a1548 1636px 1773px,#481548 1773px 1818px,#4c1548 1818px 1863px)"></i><i style="top:458px;height:10px;background:linear-gradient(90deg,#58184a 0px 46px,#57174a 46px 91px,#551749 91px 137px,#541749 137px 182px,#511649 182px 228px,#4e1649 228px 273px,#4e1648 273px 318px,#4d1648 318px 364px,#4c1548 364px 409px,#4b1548 409px 455px,#4a1548 455px 500px,#4b1548 500px 591px,#4c1548 591px 682px,#4e1649 682px 955px,#4e1648 955px 1000px,#4d1648 1000px 1046px,#4c1548 1046px 1091px,#4b1548 1091px 1136px,#4a1548 1136px 1182px,#491548 1182px 1227px,#481548 1227px 1364px,#401249 1364px 1409px,#3a1049 1409px 1591px,#381049 1591px 1863px)"></i><i style="top:468px;height:9px;background:linear-gradient(90deg,#260c3a 0px 46px,#260b39 46px 91px,#250b37 91px 137px,#240b36 137px 182px,#230b35 182px 228px,#230b34 228px 364px,#230b35 364px 455px,#240b35 455px 500px,#240b36 500px 546px,#240b37 546px 591px,#250b38 591px 682px,#280c3c 682px 773px,#300e4a 773px 909px,#340f4a 909px 955px,#350f4a 955px 1000px,#360f4a 1000px 1046px,#371049 1046px 1136px,#381049 1136px 1182px,#391049 1182px 1227px,#3a1049 1227px 1318px,#391049 1318px 1364px,#381049 1364px 1591px,#3a1049 1591px 1636px,#391049 1636px 1682px,#381049 1682px 1727px,#371049 1727px 1818px,#360f4a 1818px 1863px)"></i><i style="top:477px;height:10px;background:linear-gradient(90deg,#300e4a 0px 91px,#310e4a 91px 228px,#2a0d40 228px 273px,#290c3e 273px 318px,#280c3c 318px 364px,#260c3a 364px 409px,#250b38 409px 455px,#240b37 455px 500px,#250b37 500px 591px,#250b38 591px 682px,#270c3c 682px 773px,#280c3c 773px 1182px,#260c3a 1182px 1227px,#250b38 1227px 1318px,#240b36 1318px 1364px,#240b35 1364px 1545px,#210a30 1545px 1863px)"></i><i style="top:487px;height:9px;background:linear-gradient(90deg,#3d1149 0px 46px,#3a1049 46px 91px,#381049 91px 137px,#360f4a 137px 182px,#350f4a 182px 228px,#340f4a 228px 273px,#310e4a 273px 364px,#2a0d40 364px 409px,#240b37 409px 455px,#230b34 455px 500px,#220a33 500px 546px,#210a31 546px 591px,#210a30 591px 637px,#200a2f 637px 682px,#1f092d 682px 773px,#1a0824 773px 1136px,#1c0928 1136px 1273px,#1b0825 1273px 1500px,#1a0825 1500px 1636px,#1a0824 1636px 1863px)"></i><i style="top:496px;height:10px;background:linear-gradient(90deg,#300e4a 0px 46px,#310e4a 46px 91px,#320e4a 91px 137px,#320f4a 137px 182px,#330f4a 182px 228px,#340f4a 228px 273px,#330f4a 273px 364px,#320f4a 364px 409px,#310e4a 409px 455px,#2f0e48 455px 682px,#300e4a 682px 727px,#2a0d40 727px 773px,#290c3f 773px 818px,#290c3e 818px 864px,#280c3c 864px 955px,#270c3b 955px 1000px,#270c3a 1000px 1046px,#260c3a 1046px 1091px,#260b39 1091px 1136px,#250b38 1136px 1182px,#240b36 1182px 1227px,#240b35 1227px 1273px,#250b38 1273px 1318px,#240b37 1318px 1364px,#240b35 1364px 1409px,#230b34 1409px 1454px,#230b33 1454px 1500px,#220a32 1500px 1863px)"></i><i style="top:506px;height:9px;background:linear-gradient(90deg,#300e4a 0px 91px,#310e4a 91px 182px,#330f4a 182px 228px,#340f4a 228px 273px,#2a0d40 273px 318px,#280c3d 318px 364px,#270c3b 364px 409px,#250b38 409px 500px,#240b37 500px 546px,#240b36 546px 591px,#240b35 591px 637px,#220a32 637px 682px,#230b34 682px 909px,#240b37 909px 955px,#240b36 955px 1136px,#240b35 1136px 1182px,#230b35 1182px 1227px,#230b34 1227px 1273px,#240b35 1273px 1318px,#230b34 1318px 1364px,#220a32 1364px 1863px)"></i><i style="top:515px;height:10px;background:linear-gradient(90deg,#300e4a 0px 46px,#310e4a 46px 91px,#320e4a 91px 137px,#320f4a 137px 182px,#330f4a 182px 228px,#340f4a 228px 273px,#330f4a 273px 318px,#310e4a 318px 455px,#280c3c 455px 500px,#270c3b 500px 546px,#260b39 546px 591px,#250b38 591px 637px,#220a32 637px 682px,#210a30 682px 727px,#200a30 727px 773px,#200a2f 773px 909px,#1c0928 909px 1136px,#1d092a 1136px 1273px,#1a0824 1273px 1318px,#190822 1318px 1364px,#180721 1364px 1682px,#16071e 1682px 1863px)"></i><i style="top:525px;height:9px;background:linear-gradient(90deg,#1a0824 0px 46px,#1b0825 46px 91px,#1b0826 91px 137px,#1c0927 137px 182px,#1d0929 182px 228px,#1d092a 228px 273px,#1e092c 273px 318px,#200a2e 318px 364px,#210a30 364px 409px,#220a32 409px 500px,#200a2f 500px 637px,#2f0e48 637px 682px,#310e4a 682px 727px,#330f4a 727px 773px,#340f4a 773px 818px,#36104a 818px 864px,#381049 864px 909px,#360f4a 909px 955px,#381049 955px 1000px,#3a1049 1000px 1046px,#381049 1046px 1091px,#371049 1091px 1136px,#360f4a 1136px 1182px,#350f4a 1182px 1227px,#340f4a 1227px 1273px,#360f4a 1273px 1318px,#350f4a 1318px 1364px,#340f4a 1364px 1409px,#300e4a 1409px 1454px,#2a0d40 1454px 1500px,#270c3c 1500px 1545px,#240b35 1545px 1591px,#220a32 1591px 1727px,#1d092a 1727px 1818px,#1a0824 1818px 1863px)"></i><i style="top:534px;height:10px;background:linear-gradient(90deg,#0c040f 0px 46px,#0c0410 46px 91px,#0d0411 91px 137px,#0e0412 137px 182px,#0f0513 182px 228px,#100515 228px 273px,#120517 273px 318px,#130619 318px 364px,#14061c 364px 409px,#16071e 409px 455px,#180721 455px 500px,#190822 500px 546px,#190823 546px 591px,#1a0824 591px 637px,#230b34 637px 682px,#250b38 682px 727px,#260c3a 727px 773px,#280c3c 773px 955px,#2c0d43 955px 1000px,#300e4a 1000px 1046px,#2a0d40 1046px 1091px,#2a0c40 1091px 1136px,#290c3f 1136px 1318px,#2a0c3f 1318px 1364px,#2a0c40 1364px 1409px,#2a0d40 1409px 1454px,#240b35 1454px 1591px,#220a32 1591px 1863px)"></i><i style="top:544px;height:10px;background:linear-gradient(90deg,#0e0412 0px 46px,#0e0512 46px 91px,#0f0513 91px 137px,#0f0514 137px 182px,#100514 182px 228px,#100515 228px 273px,#100516 273px 318px,#110516 318px 364px,#110517 364px 409px,#120517 409px 455px,#120618 455px 682px,#130619 682px 864px,#16071e 864px 1273px,#170720 1273px 1500px,#180720 1500px 1636px,#180721 1636px 1863px)"></i><i style="top:554px;height:9px;background:linear-gradient(90deg,#260c3a 0px 46px,#270c3b 46px 91px,#280c3d 91px 137px,#290c3e 137px 182px,#290c3f 182px 228px,#2a0d40 228px 273px,#2b0d42 273px 318px,#2c0d44 318px 364px,#2d0d46 364px 409px,#2f0e48 409px 546px,#300e49 546px 591px,#300e4a 591px 682px,#340f4a 682px 773px,#350f4a 773px 864px,#360f4a 864px 909px,#340f4a 909px 955px,#330f4a 955px 1046px,#320f4a 1046px 1091px,#320e4a 1091px 1136px,#310e4a 1136px 1182px,#330f4a 1182px 1227px,#340f4a 1227px 1273px,#310e4a 1273px 1409px,#2d0d44 1409px 1454px,#2a0d40 1454px 1500px,#280c3c 1500px 1545px,#260b39 1545px 1591px,#240b35 1591px 1636px,#230b34 1636px 1682px,#220a32 1682px 1863px)"></i><i style="top:563px;height:10px;background:linear-gradient(90deg,#340f4a 0px 46px,#330f4a 46px 91px,#320f4a 91px 137px,#320e4a 137px 182px,#310e4a 182px 228px,#300e4a 228px 318px,#310e4a 318px 500px,#330f4a 500px 546px,#340f4a 546px 591px,#360f4a 591px 637px,#340f4a 637px 682px,#360f4a 682px 727px,#381049 727px 773px,#3a1049 773px 818px,#401249 818px 864px,#441348 864px 909px,#471448 909px 955px,#4a1548 955px 1000px,#4c1548 1000px 1046px,#4e1649 1046px 1091px,#4f1649 1091px 1136px,#501649 1136px 1182px,#511649 1182px 1227px,#521649 1227px 1273px,#5c184a 1273px 1409px,#58184a 1409px 1454px,#541749 1454px 1500px,#501649 1500px 1545px,#4e1649 1545px 1591px,#4c1548 1591px 1636px,#4a1548 1636px 1682px,#481548 1682px 1727px,#441348 1727px 1773px,#401249 1773px 1818px,#3a1049 1818px 1863px)"></i><i style="top:573px;height:9px;background:linear-gradient(90deg,#2f0e48 0px 46px,#300e4a 46px 91px,#310e4a 91px 137px,#330f4a 137px 182px,#340f4a 182px 228px,#360f4a 228px 273px,#371049 273px 318px,#391049 318px 364px,#3b1149 364px 409px,#3d1149 409px 455px,#3f1249 455px 500px,#401249 500px 546px,#411249 546px 591px,#421349 591px 637px,#471448 637px 682px,#4a1548 682px 727px,#4c1548 727px 773px,#4e1649 773px 818px,#511649 818px 864px,#541749 864px 909px,#561749 909px 955px,#58184a 955px 1000px,#5a184a 1000px 1046px,#5b184a 1046px 1091px,#5c184a 1091px 1136px,#5a184a 1136px 1182px,#59184a 1182px 1227px,#58184a 1227px 1273px,#5c184a 1273px 1318px,#5b184a 1318px 1364px,#5a184a 1364px 1591px,#541749 1591px 1636px,#521649 1636px 1818px,#501649 1818px 1863px)"></i><i style="top:582px;height:10px;background:linear-gradient(90deg,#441348 0px 91px,#431349 91px 137px,#421349 137px 182px,#3e1149 182px 228px,#3a1049 228px 273px,#381049 273px 318px,#361049 318px 364px,#350f4a 364px 409px,#330f4a 409px 455px,#310e4a 455px 500px,#300e4a 500px 546px,#300e49 546px 591px,#2f0e48 591px 637px,#280c3c 637px 682px,#250b38 682px 727px,#250b37 727px 773px,#240b36 773px 864px,#240b35 864px 909px,#220a32 909px 955px,#220a33 955px 1046px,#220b33 1046px 1091px,#230b34 1091px 1182px,#230b35 1182px 1227px,#240b35 1227px 1273px,#240b37 1273px 1318px,#260c3a 1318px 1364px,#280c3c 1364px 1500px,#2f0e48 1500px 1545px,#300e4a 1545px 1591px,#310e4a 1591px 1636px,#340f4a 1636px 1682px,#360f4a 1682px 1727px,#3a1049 1727px 1773px,#3c1149 1773px 1818px,#3f1249 1818px 1863px)"></i><i style="top:592px;height:9px;background:linear-gradient(90deg,#2a0d40 0px 46px,#2a0c40 46px 91px,#290c3f 91px 137px,#270c3c 137px 182px,#250b38 182px 228px,#240b35 228px 273px,#230b35 273px 318px,#230b34 318px 409px,#220a33 409px 455px,#220a32 455px 546px,#210a31 546px 591px,#210a30 591px 682px,#220a32 682px 818px,#240b35 818px 955px,#240b36 955px 1000px,#250b38 1000px 1046px,#260c3a 1046px 1091px,#280c3c 1091px 1136px,#2c0d43 1136px 1182px,#2e0d46 1182px 1227px,#300e4a 1227px 1273px,#340f4a 1273px 1318px,#381049 1318px 1364px,#3f1249 1364px 1409px,#421349 1409px 1454px,#471448 1454px 1500px,#4a1548 1500px 1545px,#4e1649 1545px 1591px,#541749 1591px 1636px,#58184a 1636px 1682px,#5e194a 1682px 1773px,#661c4a 1773px 1818px,#6e1e4a 1818px 1863px)"></i><i style="top:601px;height:10px;background:linear-gradient(90deg,#3f1249 0px 91px,#401249 91px 137px,#411249 137px 182px,#411349 182px 228px,#421349 228px 273px,#431348 273px 318px,#441348 318px 364px,#461448 364px 409px,#471448 409px 455px,#481548 455px 500px,#491548 500px 591px,#4a1548 591px 682px,#4c1548 682px 727px,#4d1548 727px 773px,#4d1648 773px 818px,#4e1648 818px 864px,#4e1649 864px 909px,#501649 909px 955px,#521649 955px 1000px,#541749 1000px 1046px,#58184a 1046px 1091px,#5c184a 1091px 1182px,#5b184a 1182px 1227px,#5a184a 1227px 1318px,#5e194a 1318px 1364px,#5c184a 1364px 1591px,#561749 1591px 1636px,#541749 1636px 1682px,#511649 1682px 1727px,#4e1649 1727px 1773px,#4c1548 1773px 1818px,#4a1548 1818px 1863px)"></i><i style="top:611px;height:9px;background:linear-gradient(90deg,#58184a 0px 46px,#5c184a 46px 182px,#561749 182px 228px,#541749 228px 273px,#531749 273px 318px,#521649 318px 364px,#511649 364px 409px,#501649 409px 455px,#4e1649 455px 500px,#4e1648 500px 546px,#4d1648 546px 591px,#4c1548 591px 955px,#4b1548 955px 1000px,#4a1548 1000px 1091px,#491548 1091px 1136px,#481548 1136px 1182px,#461448 1182px 1227px,#441348 1227px 1318px,#431348 1318px 1364px,#421349 1364px 1591px,#3f1249 1591px 1636px,#3a1049 1636px 1818px,#381049 1818px 1863px)"></i><i style="top:620px;height:10px;background:linear-gradient(90deg,#481548 0px 46px,#4a1548 46px 91px,#4c1548 91px 137px,#4d1648 137px 182px,#4e1648 182px 228px,#4e1649 228px 273px,#4e1648 273px 318px,#4d1648 318px 364px,#4c1548 364px 409px,#4b1548 409px 455px,#4a1548 455px 500px,#491548 500px 591px,#481548 591px 682px,#4c1548 682px 727px,#4d1548 727px 773px,#4d1648 773px 818px,#4e1648 818px 864px,#4e1649 864px 909px,#521649 909px 955px,#531749 955px 1000px,#541749 1000px 1046px,#58184a 1046px 1136px,#541749 1136px 1182px,#531749 1182px 1227px,#521649 1227px 1273px,#5a184a 1273px 1318px,#5c194a 1318px 1364px,#5e194a 1364px 1409px,#621a4a 1409px 1591px,#641b4a 1591px 1727px,#621a4a 1727px 1773px,#601a4a 1773px 1818px,#5e194a 1818px 1863px)"></i><i style="top:630px;height:10px;background:linear-gradient(90deg,#260c3a 0px 46px,#260b39 46px 91px,#250b37 91px 137px,#240b36 137px 182px,#230b35 182px 228px,#230b34 228px 364px,#230b35 364px 455px,#240b35 455px 682px,#240b37 682px 727px,#260b39 727px 773px,#270c3b 773px 818px,#280c3c 818px 864px,#290c3e 864px 909px,#2a0d40 909px 955px,#2d0d45 955px 1000px,#300e4a 1000px 1046px,#310e4a 1046px 1136px,#340f4a 1136px 1182px,#350f4a 1182px 1227px,#360f4a 1227px 1273px,#3d1149 1273px 1318px,#3f1249 1318px 1364px,#401249 1364px 1409px,#441348 1409px 1591px,#481548 1591px 1818px,#4a1548 1818px 1863px)"></i><i style="top:640px;height:9px;background:linear-gradient(90deg,#2a0d40 0px 46px,#290c3e 46px 91px,#280c3c 91px 137px,#260c3a 137px 182px,#250b37 182px 228px,#240b35 228px 273px,#240b36 273px 364px,#240b37 364px 409px,#250b37 409px 455px,#250b38 455px 500px,#250b37 500px 591px,#240b37 591px 682px,#240b35 682px 727px,#240b36 727px 818px,#240b37 818px 864px,#250b37 864px 909px,#250b38 909px 955px,#260b39 955px 1000px,#270c3a 1000px 1046px,#280c3c 1046px 1091px,#280c3d 1091px 1136px,#290c3f 1136px 1182px,#2a0d41 1182px 1227px,#2c0d43 1227px 1318px,#2a0d41 1318px 1364px,#290c3f 1364px 1863px)"></i><i style="top:649px;height:10px;background:linear-gradient(90deg,#2f0e48 0px 46px,#280c3c 46px 182px,#270c3c 182px 273px,#260c3a 273px 318px,#250b38 318px 364px,#240b37 364px 409px,#240b35 409px 455px,#230b35 455px 546px,#230b34 546px 682px,#220a32 682px 909px,#200a2f 909px 1273px,#1a0824 1273px 1409px,#1a0823 1409px 1454px,#190823 1454px 1545px,#190822 1545px 1682px,#180822 1682px 1773px,#180721 1773px 1863px)"></i><i style="top:659px;height:9px;background:linear-gradient(90deg,#401249 0px 46px,#3f1249 46px 228px,#401249 228px 273px,#3a1049 273px 455px,#381049 455px 500px,#371049 500px 546px,#350f4a 546px 591px,#340f4a 591px 682px,#360f4a 682px 909px,#340f4a 909px 955px,#330f4a 955px 1046px,#320f4a 1046px 1091px,#310e4a 1091px 1182px,#330f4a 1182px 1227px,#340f4a 1227px 1273px,#350f4a 1273px 1863px)"></i><i style="top:668px;height:10px;background:linear-gradient(90deg,#561749 0px 46px,#58184a 46px 91px,#521649 91px 228px,#4e1649 228px 273px,#4e1648 273px 318px,#4d1648 318px 364px,#4d1548 364px 409px,#4c1548 409px 455px,#4a1548 455px 500px,#491548 500px 591px,#481548 591px 637px,#4a1548 637px 682px,#4e1649 682px 818px,#521649 818px 864px,#511649 864px 909px,#501649 909px 955px,#511649 955px 1000px,#521649 1000px 1046px,#58184a 1046px 1091px,#59184a 1091px 1136px,#5a184a 1136px 1182px,#5e194a 1182px 1364px,#611a4a 1364px 1500px,#641b4a 1500px 1545px,#6a1c4a 1545px 1591px,#6d1d4a 1591px 1636px,#721e4a 1636px 1727px,#78204a 1727px 1818px,#7b2049 1818px 1863px)"></i><i style="top:678px;height:9px;background:linear-gradient(90deg,#421349 0px 91px,#411349 91px 137px,#411249 137px 228px,#401249 228px 273px,#411349 273px 318px,#421349 318px 364px,#431349 364px 409px,#441348 409px 637px,#471448 637px 682px,#4a1548 682px 727px,#4c1548 727px 773px,#4e1649 773px 818px,#4f1649 818px 864px,#501649 864px 909px,#4e1649 909px 955px,#541749 955px 1000px,#57174a 1000px 1046px,#5a184a 1046px 1091px,#5e194a 1091px 1136px,#611a4a 1136px 1182px,#621a4a 1182px 1227px,#661c4a 1227px 1318px,#6d1d4a 1318px 1364px,#6e1e4a 1364px 1409px,#741f4a 1409px 1454px,#78204a 1454px 1545px,#7a2049 1545px 1591px,#7b2049 1591px 1682px,#7f2147 1682px 1818px,#842244 1818px 1863px)"></i><i style="top:687px;height:10px;background:linear-gradient(90deg,#300e4a 0px 46px,#300e49 46px 91px,#2f0e49 91px 137px,#2f0e48 137px 228px,#300e4a 228px 273px,#2f0e48 273px 318px,#280c3c 318px 455px,#270c3c 455px 500px,#280c3c 500px 955px,#2f0e48 955px 1091px,#310e4a 1091px 1136px,#320f4a 1136px 1182px,#330f4a 1182px 1227px,#340f4a 1227px 1318px,#381049 1318px 1364px,#3a1049 1364px 1500px,#3f1249 1500px 1591px,#3d1149 1591px 1818px,#401249 1818px 1863px)"></i><i style="top:697px;height:9px;background:linear-gradient(90deg,#8f263c 0px 46px,#892440 46px 137px,#842244 137px 228px,#7f2147 228px 273px,#7d2148 273px 318px,#7b2049 318px 409px,#751f4a 409px 455px,#721e4a 455px 500px,#6e1e4a 500px 546px,#6b1d4a 546px 591px,#681c4a 591px 637px,#621a4a 637px 682px,#611a4a 682px 727px,#5f1a4a 727px 773px,#5e194a 773px 818px,#5b184a 818px 864px,#58184a 864px 909px,#561749 909px 955px,#521649 955px 1000px,#511649 1000px 1046px,#501649 1046px 1091px,#4f1649 1091px 1136px,#4e1649 1136px 1182px,#4d1648 1182px 1227px,#4c1548 1227px 1364px,#4a1548 1364px 1409px,#4e1649 1409px 1818px,#521649 1818px 1863px)"></i><i style="top:706px;height:10px;background:linear-gradient(90deg,#661c4a 0px 46px,#641b4a 46px 91px,#5e194a 91px 273px,#5d194a 273px 318px,#5b184a 318px 364px,#5a184a 364px 455px,#561749 455px 500px,#541749 500px 546px,#521749 546px 591px,#501649 591px 637px,#4a1548 637px 682px,#471448 682px 727px,#441348 727px 773px,#421349 773px 818px,#3d1149 818px 864px,#391049 864px 909px,#360f4a 909px 955px,#340f4a 955px 1000px,#330f4a 1000px 1046px,#310e4a 1046px 1091px,#300e4a 1091px 1136px,#2f0e48 1136px 1318px,#280c3c 1318px 1364px,#270c3c 1364px 1409px,#2f0e48 1409px 1454px,#2f0e49 1454px 1500px,#300e4a 1500px 1545px,#310e4a 1545px 1591px,#340f4a 1591px 1773px,#381049 1773px 1818px,#3f1249 1818px 1863px)"></i><i style="top:716px;height:9px;background:linear-gradient(90deg,#3d1149 0px 273px,#3b1149 273px 318px,#3a1049 318px 364px,#381049 364px 409px,#36104a 409px 455px,#340f4a 455px 727px,#300e4a 727px 864px,#2a0d40 864px 909px,#280c3c 909px 955px,#270c3b 955px 1000px,#260c3a 1000px 1046px,#260b39 1046px 1091px,#250b38 1091px 1136px,#280c3c 1136px 1500px,#2f0e48 1500px 1545px,#2f0e49 1545px 1591px,#300e4a 1591px 1636px,#340f4a 1636px 1773px,#381049 1773px 1818px,#3f1249 1818px 1863px)"></i><i style="top:725px;height:10px;background:linear-gradient(90deg,#240b37 0px 46px,#260b39 46px 91px,#270c3b 91px 137px,#280c3c 137px 182px,#280c3d 182px 228px,#290c3e 228px 318px,#290c3f 318px 409px,#300e4a 409px 455px,#310e4a 455px 500px,#330f4a 500px 546px,#340f4a 546px 591px,#360f4a 591px 682px,#381049 682px 727px,#3a1149 727px 773px,#3d1149 773px 818px,#3f1249 818px 864px,#401249 864px 909px,#421349 909px 1091px,#471448 1091px 1182px,#481448 1182px 1227px,#481548 1227px 1318px,#491548 1318px 1364px,#4a1548 1364px 1591px,#4c1548 1591px 1818px,#501649 1818px 1863px)"></i><i style="top:735px;height:10px;background:linear-gradient(90deg,#240b35 0px 46px,#250b38 46px 228px,#280c3c 228px 273px,#290c3e 273px 318px,#2a0d40 318px 409px,#300e4a 409px 455px,#340f4a 455px 500px,#350f4a 500px 546px,#371049 546px 591px,#381049 591px 682px,#3a1049 682px 727px,#3d1149 727px 773px,#401249 773px 818px,#481548 818px 864px,#491548 864px 909px,#4a1548 909px 955px,#4c1548 955px 1000px,#4e1649 1000px 1046px,#511649 1046px 1091px,#541749 1091px 1136px,#561749 1136px 1182px,#58184a 1182px 1273px,#5c184a 1273px 1318px,#5d194a 1318px 1364px,#5e194a 1364px 1545px,#641b4a 1545px 1727px,#661c4a 1727px 1818px,#6a1c4a 1818px 1863px)"></i><i style="top:745px;height:9px;background:linear-gradient(90deg,#300e4a 0px 46px,#310e4a 46px 273px,#340f4a 273px 318px,#360f4a 318px 455px,#381049 455px 500px,#391049 500px 591px,#3a1049 591px 773px,#3f1249 773px 864px,#401249 864px 955px,#411349 955px 1000px,#421349 1000px 1046px,#431348 1046px 1091px,#441348 1091px 1136px,#471448 1136px 1182px,#481548 1182px 1227px,#4a1548 1227px 1318px,#491548 1318px 1364px,#481548 1364px 1818px,#4a1548 1818px 1863px)"></i><i style="top:754px;height:10px;background:linear-gradient(90deg,#230b34 0px 91px,#220b33 91px 137px,#220a33 137px 228px,#220a32 228px 318px,#210a31 318px 364px,#210a30 364px 409px,#200a30 409px 455px,#200a2f 455px 682px,#1c0928 682px 909px,#1a0824 909px 1863px)"></i><i style="top:764px;height:9px;background:linear-gradient(90deg,#220a32 0px 137px,#210a31 137px 228px,#210a30 228px 273px,#1c0928 273px 500px,#1a0824 500px 682px,#1c0928 682px 909px,#1a0824 909px 1273px,#1c0928 1273px 1409px,#220a32 1409px 1727px,#250b38 1727px 1863px)"></i><i style="top:773px;height:10px;background:linear-gradient(90deg,#340f4a 0px 91px,#350f4a 91px 228px,#360f4a 228px 273px,#310e4a 273px 500px,#300e4a 500px 682px,#310e4a 682px 727px,#2f0e48 727px 773px,#2d0d44 773px 955px,#2a0d40 955px 1000px,#280c3c 1000px 1318px,#260c3a 1318px 1364px,#250b38 1364px 1591px,#240b35 1591px 1863px)"></i><i style="top:783px;height:9px;background:linear-gradient(90deg,#3d1149 0px 46px,#3c1149 46px 91px,#3b1149 91px 182px,#3a1149 182px 228px,#3a1049 228px 273px,#391049 273px 318px,#381049 318px 364px,#371049 364px 455px,#360f4a 455px 500px,#350f4a 500px 546px,#340f4a 546px 682px,#310e4a 682px 727px,#300e4a 727px 773px,#2f0e48 773px 955px,#2e0d47 955px 1000px,#2d0d46 1000px 1046px,#2d0d45 1046px 1091px,#2c0d44 1091px 1136px,#2c0d43 1136px 1182px,#2b0d42 1182px 1227px,#2a0d40 1227px 1273px,#260c3a 1273px 1409px,#260c39 1409px 1454px,#260b39 1454px 1636px,#250b38 1636px 1863px)"></i><i style="top:792px;height:10px;background:linear-gradient(90deg,#1c0928 0px 46px,#1c0827 46px 91px,#1b0826 91px 137px,#1b0825 137px 182px,#1a0825 182px 228px,#1a0824 228px 1863px)"></i><i style="top:802px;height:9px;background:linear-gradient(90deg,#4c1548 0px 46px,#501649 46px 228px,#4e1649 228px 273px,#4d1648 273px 318px,#4c1548 318px 364px,#4b1548 364px 409px,#4a1548 409px 455px,#481548 455px 500px,#481448 500px 546px,#471448 546px 637px,#421349 637px 682px,#3f1249 682px 727px,#3e1149 727px 773px,#3d1149 773px 818px,#3b1149 818px 864px,#3a1049 864px 909px,#360f4a 909px 955px,#340f4a 955px 1000px,#300e4a 1000px 1046px,#2f0e49 1046px 1091px,#2f0e48 1091px 1136px,#2d0d44 1136px 1182px,#2b0d42 1182px 1227px,#2a0d40 1227px 1364px,#240b37 1364px 1591px,#210a30 1591px 1863px)"></i><i style="top:811px;height:10px;background:linear-gradient(90deg,#78204a 0px 46px,#7b2049 46px 182px,#741f4a 182px 228px,#6e1e4a 228px 273px,#6a1d4a 273px 318px,#661c4a 318px 409px,#611a4a 409px 455px,#5e194a 455px 500px,#58184a 500px 546px,#561749 546px 591px,#541749 591px 637px,#4e1649 637px 682px,#4c1548 682px 727px,#481548 727px 773px,#441348 773px 818px,#3f1249 818px 864px,#3a1049 864px 909px,#381049 909px 955px,#360f4a 955px 1000px,#300e4a 1000px 1046px,#2e0e47 1046px 1091px,#2d0d44 1091px 1136px,#2a0d40 1136px 1182px,#290c3e 1182px 1227px,#280c3c 1227px 1318px,#240b37 1318px 1500px,#220a32 1500px 1727px,#1d092a 1727px 1863px)"></i><i style="top:821px;height:10px;background:linear-gradient(90deg,#441348 0px 46px,#3f1249 46px 137px,#3a1049 137px 228px,#360f4a 228px 273px,#340f4a 273px 318px,#330f4a 318px 364px,#310e4a 364px 455px,#2f0e48 455px 500px,#2e0d47 500px 546px,#2d0d45 546px 591px,#2d0d44 591px 637px,#2a0d40 637px 682px,#260c3a 682px 818px,#240b35 818px 864px,#230b34 864px 909px,#220a32 909px 1136px,#210a30 1136px 1273px,#1a0824 1273px 1591px,#180721 1591px 1863px)"></i><i style="top:831px;height:9px;background:linear-gradient(90deg,#290c3e 0px 91px,#280c3d 91px 228px,#280c3c 228px 273px,#270c3b 273px 318px,#260b39 318px 364px,#250b37 364px 409px,#240b35 409px 500px,#230b35 500px 546px,#230b34 546px 637px,#240b37 637px 682px,#240b35 682px 727px,#230b35 727px 818px,#230b34 818px 1046px,#230b35 1046px 1136px,#240b35 1136px 1863px)"></i><i style="top:840px;height:10px;background:linear-gradient(90deg,#4a1548 0px 46px,#491548 46px 91px,#481548 91px 137px,#4c1548 137px 228px,#501649 228px 273px,#511649 273px 318px,#531749 318px 364px,#541749 364px 455px,#58184a 455px 500px,#5b184a 500px 546px,#5e194a 546px 727px,#5c184a 727px 909px,#5e194a 909px 955px,#5f194a 955px 1000px,#5f1a4a 1000px 1046px,#601a4a 1046px 1091px,#611a4a 1091px 1136px,#5e194a 1136px 1182px,#5d194a 1182px 1227px,#5c184a 1227px 1273px,#5d194a 1273px 1409px,#5e194a 1409px 1636px,#5f194a 1636px 1773px,#5f1a4a 1773px 1818px,#601a4a 1818px 1863px)"></i><i style="top:850px;height:9px;background:linear-gradient(90deg,#7b2049 0px 46px,#7a2049 46px 228px,#78204a 228px 273px,#77204a 273px 318px,#751f4a 318px 364px,#741f4a 364px 409px,#6e1e4a 409px 455px,#6d1d4a 455px 500px,#6c1d4a 500px 546px,#6b1d4a 546px 591px,#6a1c4a 591px 637px,#661c4a 637px 682px,#641b4a 682px 727px,#621a4a 727px 773px,#611a4a 773px 818px,#601a4a 818px 864px,#5f194a 864px 909px,#5e194a 909px 955px,#5d194a 955px 1000px,#5c184a 1000px 1046px,#5e194a 1046px 1091px,#5d194a 1091px 1136px,#5c184a 1136px 1182px,#58184a 1182px 1273px,#521649 1273px 1409px,#4e1649 1409px 1545px,#4c1548 1545px 1636px,#481548 1636px 1818px,#441348 1818px 1863px)"></i><i style="top:859px;height:10px;background:linear-gradient(90deg,#290c3e 0px 46px,#280c3c 46px 91px,#240b35 91px 228px,#220a32 228px 318px,#210a31 318px 364px,#210a30 364px 409px,#200a30 409px 455px,#200a2f 455px 500px,#1f0a2d 500px 546px,#1e092b 546px 591px,#1d092a 591px 637px,#1c0928 637px 682px,#1a0824 682px 909px,#180721 909px 1273px,#17071f 1273px 1500px,#16071f 1500px 1591px,#16071e 1591px 1863px)"></i><i style="top:869px;height:9px;background:linear-gradient(90deg,#13061a 0px 46px,#130619 46px 137px,#120619 137px 182px,#120618 182px 637px,#15071d 637px 682px,#16071e 682px 727px,#17071f 727px 773px,#170720 773px 864px,#180721 864px 1000px,#180822 1000px 1046px,#190822 1046px 1136px,#190823 1136px 1182px,#1d092a 1182px 1364px,#220a32 1364px 1591px,#240b35 1591px 1773px,#280c3c 1773px 1863px)"></i><i style="top:878px;height:10px;background:linear-gradient(90deg,#230b34 0px 137px,#230b35 137px 228px,#240b35 228px 273px,#240b36 273px 318px,#240b37 318px 364px,#250b38 364px 409px,#2a0d40 409px 455px,#280c3c 455px 637px,#2a0d40 637px 773px,#310e4a 773px 909px,#300e4a 909px 1000px,#340f4a 1000px 1091px,#350f4a 1091px 1136px,#360f4a 1136px 1182px,#371049 1182px 1227px,#381049 1227px 1318px,#391049 1318px 1364px,#3a1049 1364px 1409px,#3f1249 1409px 1591px,#401249 1591px 1818px,#441348 1818px 1863px)"></i><i style="top:888px;height:9px;background:linear-gradient(90deg,#992936 0px 137px,#982936 137px 182px,#982937 182px 228px,#972937 228px 273px,#972837 273px 318px,#962837 318px 364px,#962838 364px 409px,#952838 409px 546px,#942839 546px 637px,#93273a 637px 682px,#91273b 682px 727px,#90263c 727px 773px,#8f263c 773px 818px,#8e263d 818px 864px,#8d253e 864px 955px,#8c253f 955px 1000px,#8a2440 1000px 1091px,#892440 1091px 1136px,#862342 1136px 1182px,#852343 1182px 1227px,#842244 1227px 1318px,#822246 1318px 1364px,#802147 1364px 1500px,#7f2147 1500px 1545px,#7e2148 1545px 1591px,#7d2148 1591px 1636px,#7b2049 1636px 1818px,#7a2049 1818px 1863px)"></i><i style="top:897px;height:10px;background:linear-gradient(90deg,#d65c13 0px 46px,#d65a13 46px 228px,#d35514 228px 546px,#d35414 546px 591px,#d25415 591px 955px,#d35514 955px 1182px,#d45614 1182px 1227px,#d45714 1227px 1318px,#d45614 1318px 1409px,#d35514 1409px 1545px,#d45614 1545px 1591px,#d45714 1591px 1863px)"></i><i style="top:907px;height:10px;background:linear-gradient(90deg,#481548 0px 46px,#441348 46px 137px,#3f1249 137px 228px,#3d1149 228px 409px,#401249 409px 500px,#411249 500px 546px,#421349 546px 637px,#441348 637px 909px,#481548 909px 955px,#4c1548 955px 1000px,#501649 1000px 1046px,#541749 1046px 1091px,#561749 1091px 1136px,#58184a 1136px 1182px,#5c184a 1182px 1273px,#621a4a 1273px 1318px,#661c4a 1318px 1364px,#6a1c4a 1364px 1409px,#6e1e4a 1409px 1454px,#721e4a 1454px 1500px,#751f4a 1500px 1545px,#7a2049 1545px 1591px,#7d2148 1591px 1636px,#802147 1636px 1727px,#842244 1727px 1773px,#8d253e 1773px 1818px,#91273b 1818px 1863px)"></i><i style="top:917px;height:9px;background:linear-gradient(90deg,#220a32 0px 91px,#210a31 91px 137px,#210a30 137px 182px,#200a30 182px 228px,#200a2f 228px 273px,#1f0a2e 273px 318px,#1f092d 318px 364px,#1e092c 364px 409px,#1e092b 409px 455px,#1d092a 455px 682px,#200a2f 682px 909px,#220a32 909px 1136px,#240b35 1136px 1182px,#240b36 1182px 1227px,#250b38 1227px 1364px,#2f0e48 1364px 1500px,#340f4a 1500px 1591px,#381049 1591px 1636px,#3a1049 1636px 1727px,#401249 1727px 1818px,#471448 1818px 1863px)"></i><i style="top:926px;height:10px;background:linear-gradient(90deg,#100515 0px 46px,#120618 46px 500px,#16071e 500px 637px,#180721 637px 682px,#1a0824 682px 909px,#1c0928 909px 1000px,#1d0929 1000px 1091px,#1d092a 1091px 1136px,#200a2f 1136px 1182px,#210a31 1182px 1227px,#220a32 1227px 1364px,#250b38 1364px 1545px,#2a0d40 1545px 1682px,#310e4a 1682px 1818px,#360f4a 1818px 1863px)"></i><i style="top:936px;height:9px;background:linear-gradient(90deg,#130619 0px 318px,#13061a 318px 455px,#14061a 455px 500px,#14061c 500px 546px,#15071d 546px 591px,#16071e 591px 1273px,#14061b 1273px 1500px,#14061a 1500px 1636px,#13061a 1636px 1863px)"></i><i style="top:945px;height:10px;background:linear-gradient(90deg,#2d0d45 0px 46px,#300e4a 46px 182px,#2d0d44 182px 228px,#2a0d40 228px 273px,#290c3e 273px 318px,#280c3c 318px 364px,#260c3a 364px 409px,#250b38 409px 500px,#240b37 500px 546px,#240b36 546px 591px,#240b35 591px 682px,#230b34 682px 727px,#220a32 727px 955px,#200a2f 955px 1136px,#1d092a 1136px 1273px,#1a0824 1273px 1409px,#1a0823 1409px 1454px,#190823 1454px 1545px,#190822 1545px 1682px,#180822 1682px 1773px,#180721 1773px 1863px)"></i><i style="top:955px;height:9px;background:linear-gradient(90deg,#3a1049 0px 46px,#391049 46px 91px,#381049 91px 137px,#371049 137px 182px,#360f4a 182px 228px,#340f4a 228px 1273px,#381049 1273px 1364px,#3f1249 1364px 1409px,#401249 1409px 1591px,#421349 1591px 1682px,#471448 1682px 1818px,#4a1548 1818px 1863px)"></i><i style="top:964px;height:10px;background:linear-gradient(90deg,#0c040f 0px 91px,#0c0410 91px 137px,#0d0411 137px 228px,#0e0412 228px 273px,#0e0512 273px 318px,#0f0513 318px 364px,#0f0514 364px 409px,#100514 409px 455px,#100515 455px 682px,#120618 682px 909px,#14061a 909px 1046px,#16071e 1046px 1273px,#180721 1273px 1364px,#190822 1364px 1454px,#190823 1454px 1545px,#1a0823 1545px 1591px,#1a0824 1591px 1682px,#1a0825 1682px 1727px,#1b0825 1727px 1773px,#1b0826 1773px 1863px)"></i><i style="top:974px;height:9px;background:linear-gradient(90deg,#421349 0px 91px,#411349 91px 137px,#411249 137px 182px,#401249 182px 228px,#3d1149 228px 273px,#3b1149 273px 318px,#391049 318px 364px,#371049 364px 409px,#360f4a 409px 455px,#340f4a 455px 500px,#330f4a 500px 546px,#320f4a 546px 591px,#310e4a 591px 637px,#2f0e48 637px 773px,#2d0d44 773px 909px,#2a0d40 909px 955px,#2a0c40 955px 1000px,#290c3f 1000px 1046px,#290c3e 1046px 1091px,#280c3d 1091px 1136px,#280c3c 1136px 1318px,#280c3d 1318px 1682px,#290c3e 1682px 1863px)"></i><i style="top:983px;height:10px;background:linear-gradient(90deg,#4c1548 0px 273px,#4e1649 273px 637px,#541749 637px 1046px,#5a184a 1046px 1136px,#58184a 1136px 1182px,#57174a 1182px 1227px,#561749 1227px 1273px,#58184a 1273px 1364px,#5a184a 1364px 1454px,#5e194a 1454px 1591px,#5c184a 1591px 1818px,#611a4a 1818px 1863px)"></i><i style="top:993px;height:9px;background:linear-gradient(90deg,#3a1049 0px 46px,#3a1149 46px 91px,#3b1149 91px 182px,#3c1149 182px 228px,#3d1149 228px 364px,#3e1249 364px 455px,#3f1249 455px 682px,#3d1149 682px 909px,#3a1049 909px 1046px,#3f1249 1046px 1136px,#421349 1136px 1182px,#431348 1182px 1227px,#441348 1227px 1364px,#421349 1364px 1818px,#471448 1818px 1863px)"></i><i style="top:1002px;height:10px;background:linear-gradient(90deg,#1f092d 0px 273px,#1e092c 273px 318px,#1e092b 318px 409px,#1e092a 409px 455px,#1d092a 455px 637px,#210a31 637px 864px,#220a32 864px 1863px)"></i><i style="top:1012px;height:10px;background:linear-gradient(90deg,#2a0d40 0px 273px,#280c3d 273px 318px,#270c3b 318px 364px,#250b38 364px 409px,#240b36 409px 455px,#240b35 455px 500px,#230b35 500px 546px,#230b34 546px 1273px,#220a32 1273px 1318px,#220b33 1318px 1364px,#230b34 1364px 1409px,#200a2f 1409px 1863px)"></i><i style="top:1022px;height:9px;background:linear-gradient(90deg,#802147 0px 46px,#7f2147 46px 273px,#7f2148 273px 318px,#7e2148 318px 364px,#7d2148 364px 409px,#7c2148 409px 455px,#7b2049 455px 546px,#7a2049 546px 637px,#751f4a 637px 682px,#721e4a 682px 727px,#701e4a 727px 773px,#6e1e4a 773px 818px,#6e1d4a 818px 864px,#6d1d4a 864px 909px,#6a1c4a 909px 955px,#691c4a 955px 1000px,#671c4a 1000px 1046px,#661c4a 1046px 1091px,#651b4a 1091px 1136px,#641b4a 1136px 1182px,#631b4a 1182px 1227px,#621a4a 1227px 1273px,#5e194a 1273px 1364px,#5c184a 1364px 1545px,#561749 1545px 1591px,#541749 1591px 1682px,#501649 1682px 1818px,#521649 1818px 1863px)"></i><i style="top:1031px;height:10px;background:linear-gradient(90deg,#882442 0px 273px,#882441 273px 500px,#892441 500px 591px,#892440 591px 637px,#8a2440 637px 682px,#8b253f 682px 1136px,#8c253f 1136px 1863px)"></i><i style="top:1041px;height:9px;background:linear-gradient(90deg,#d65a13 0px 46px,#d75f14 46px 318px,#d76014 318px 409px,#d76114 409px 455px,#d86114 455px 500px,#d86214 500px 546px,#d86314 546px 591px,#d86415 591px 909px,#d86615 909px 955px,#d96715 955px 1000px,#d96815 1000px 1046px,#d96915 1046px 1091px,#d96a16 1091px 1136px,#da6b16 1136px 1182px,#da6c16 1182px 1227px,#da6d16 1227px 1318px,#da6c16 1318px 1364px,#da6b16 1364px 1545px,#da6d16 1545px 1682px,#da6b16 1682px 1773px,#da7017 1773px 1863px)"></i><i style="top:1050px;height:10px;background:linear-gradient(90deg,#de851c 0px 46px,#de881f 46px 273px,#de891f 273px 364px,#df8920 364px 409px,#df8a20 409px 500px,#df8b21 500px 591px,#df8c22 591px 682px,#df8a20 682px 1364px,#de871d 1364px 1863px)"></i><i style="top:1060px;height:9px;background:linear-gradient(90deg,#d15015 0px 273px,#d15115 273px 318px,#d15215 318px 364px,#d25215 364px 409px,#d25315 409px 455px,#d25415 455px 909px,#d04f16 909px 955px,#cf4d16 955px 1000px,#ce4c17 1000px 1136px,#cd4a17 1136px 1182px,#cc4918 1182px 1227px,#cb4918 1227px 1364px,#c8461a 1364px 1545px,#c4431c 1545px 1773px,#ca4719 1773px 1863px)"></i><i style="top:1069px;height:10px;background:linear-gradient(90deg,#cb4918 0px 46px,#cc4917 46px 91px,#cd4a17 91px 137px,#ce4b17 137px 182px,#ce4c16 182px 228px,#cf4d16 228px 273px,#d04e16 273px 318px,#d05016 318px 364px,#d15115 364px 409px,#d25215 409px 455px,#d25415 455px 500px,#d35414 500px 546px,#d35514 546px 909px,#d45714 909px 955px,#d55813 955px 1000px,#d65913 1000px 1046px,#d65b13 1046px 1091px,#d75d13 1091px 1136px,#d75f14 1136px 1182px,#d76014 1182px 1227px,#d86114 1227px 1364px,#d65a13 1364px 1591px,#d45714 1591px 1773px,#d15015 1773px 1863px)"></i><i style="top:1079px;height:9px;background:linear-gradient(90deg,#b93924 0px 46px,#b73825 46px 228px,#bc3c22 228px 273px,#bd3d21 273px 318px,#be3d21 318px 364px,#bf3e20 364px 409px,#bf3f20 409px 455px,#c3421e 455px 500px,#c4431d 500px 546px,#c5431c 546px 591px,#c6441b 591px 637px,#ca4719 637px 682px,#cd4a17 682px 773px,#d04f16 773px 909px,#d25415 909px 955px,#d35414 955px 1000px,#d35514 1000px 1046px,#d55814 1046px 1091px,#d65a13 1091px 1136px,#d75f14 1136px 1182px,#d86114 1182px 1227px,#d86415 1227px 1318px,#d86615 1318px 1364px,#da6b16 1364px 1500px,#da6d16 1500px 1591px,#db7217 1591px 1682px,#dc7618 1682px 1818px,#dc7a19 1818px 1863px)"></i><i style="top:1088px;height:10px;background:linear-gradient(90deg,#842244 0px 46px,#862342 46px 91px,#882441 91px 137px,#8a2440 137px 182px,#8d253e 182px 228px,#8f263c 228px 273px,#91273b 273px 318px,#942839 318px 364px,#972837 364px 409px,#992936 409px 455px,#a02b32 455px 500px,#a32c30 500px 546px,#a62d2f 546px 591px,#a92d2d 591px 637px,#ae312a 637px 682px,#b03229 682px 727px,#b53626 727px 773px,#b93924 773px 818px,#bc3c22 818px 864px,#bf3f20 864px 909px,#c4431c 909px 955px,#c8461a 955px 1000px,#cb4918 1000px 1046px,#ce4c17 1046px 1091px,#d04f16 1091px 1136px,#d25415 1136px 1182px,#d35514 1182px 1227px,#d65a13 1227px 1273px,#d75f14 1273px 1318px,#d86114 1318px 1364px,#d86415 1364px 1454px,#d86615 1454px 1500px,#da6b16 1500px 1591px,#da7017 1591px 1636px,#db7418 1636px 1682px,#dc7818 1682px 1773px,#dc7b19 1773px 1818px,#dd7f1a 1818px 1863px)"></i><i style="top:1098px;height:10px;background:linear-gradient(90deg,#cb4918 0px 46px,#cd4a17 46px 228px,#d15015 228px 273px,#d25315 273px 318px,#d35514 318px 364px,#d55814 364px 409px,#d65a13 409px 455px,#d75f14 455px 500px,#d86114 500px 546px,#d86415 546px 591px,#da6b16 591px 637px,#da6d16 637px 682px,#db7217 682px 727px,#db7418 727px 773px,#dc7618 773px 818px,#dc7a19 818px 864px,#dd7d1a 864px 909px,#dd811b 909px 955px,#de851c 955px 1000px,#de881f 1000px 1046px,#df8b21 1046px 1091px,#df8e23 1091px 1136px,#e09429 1136px 1182px,#e0982c 1182px 1227px,#e19c30 1227px 1273px,#e29e31 1273px 1318px,#e2a335 1318px 1364px,#e3a437 1364px 1409px,#e3a83c 1409px 1500px,#e3ac44 1500px 1545px,#e2b04c 1545px 1591px,#e2b452 1591px 1636px,#e2b85a 1636px 1773px,#e3bb60 1773px 1818px,#e3bd63 1818px 1863px)"></i><i style="top:1108px;height:9px;background:linear-gradient(90deg,#eaddac 0px 46px,#ebdeb0 46px 91px,#ece0b4 91px 137px,#ede2bc 137px 182px,#eee5c4 182px 228px,#f0e7cc 228px 273px,#f0e9d1 273px 318px,#f1ead5 318px 364px,#f1ebd8 364px 409px,#f2ecdb 409px 455px,#f2edde 455px 500px,#f2eedf 500px 546px,#f2eee0 546px 591px,#f2efe2 591px 637px,#f3efe3 637px 773px,#f3efe4 773px 955px,#f3f0e5 955px 1046px,#f3f0e6 1046px 1136px,#f3f0e7 1136px 1182px,#f3f1e8 1182px 1273px,#f4f2ec 1273px 1863px)"></i><i style="top:1117px;height:10px;background:linear-gradient(90deg,#f3efe3 0px 46px,#f1ecda 46px 182px,#f0e7cc 182px 228px,#eee5c4 228px 273px,#ece1b8 273px 318px,#ebdeb0 318px 364px,#eaddac 364px 409px,#e9dca8 409px 455px,#e8d9a0 455px 500px,#e8d89d 500px 546px,#e7d79b 546px 591px,#e7d698 591px 637px,#e6d08c 637px 682px,#e5cb80 682px 773px,#e4c878 773px 818px,#e3c26e 818px 909px,#e3bf67 909px 955px,#e3bd63 955px 1000px,#e3bb60 1000px 1046px,#e2b95c 1046px 1091px,#e2b759 1091px 1136px,#e2b453 1136px 1182px,#e2b250 1182px 1227px,#e2b04c 1227px 1273px,#e2ae48 1273px 1318px,#e3ac44 1318px 1364px,#e3a83c 1364px 1454px,#e3a437 1454px 1545px,#e2a134 1545px 1591px,#e19c30 1591px 1682px,#e1992d 1682px 1773px,#e09429 1773px 1818px,#df9126 1818px 1863px)"></i><i style="top:1127px;height:9px;background:linear-gradient(90deg,#e4c674 0px 46px,#e3c26e 46px 228px,#e3bb60 228px 273px,#e2b555 273px 455px,#e2b04c 455px 500px,#e2ae48 500px 546px,#e3ac45 546px 591px,#e3aa41 591px 637px,#e3a83c 637px 682px,#e2a335 682px 773px,#e29e31 773px 818px,#e19b2e 818px 909px,#e0962a 909px 955px,#e09328 955px 1000px,#df9126 1000px 1046px,#df8f24 1046px 1091px,#df8e23 1091px 1136px,#df8c22 1136px 1182px,#df8b21 1182px 1227px,#df8a20 1227px 1273px,#de871d 1273px 1318px,#dd811b 1318px 1364px,#dd7d1a 1364px 1409px,#dc7a19 1409px 1454px,#dc7618 1454px 1500px,#db7217 1500px 1545px,#da6d16 1545px 1591px,#da6b16 1591px 1636px,#d86615 1636px 1773px,#d86415 1773px 1818px,#d86114 1818px 1863px)"></i><i style="top:1136px;height:10px;background:linear-gradient(90deg,#e2b95c 0px 46px,#e2b453 46px 228px,#e3ac44 228px 273px,#e3a83c 273px 455px,#e2a335 455px 500px,#e2a134 500px 546px,#e2a032 546px 591px,#e29e31 591px 637px,#e19b2e 637px 682px,#e09429 682px 773px,#df8f24 773px 818px,#df8a20 818px 909px,#de881f 909px 955px,#de871d 955px 1000px,#de851c 1000px 1046px,#de821b 1046px 1091px,#dd7f1a 1091px 1136px,#dc7b19 1136px 1182px,#dc7919 1182px 1227px,#dc7618 1227px 1273px,#db7418 1273px 1318px,#da7017 1318px 1364px,#da6b16 1364px 1409px,#d86615 1409px 1454px,#d86415 1454px 1500px,#d86114 1500px 1545px,#d75f14 1545px 1591px,#d65a13 1591px 1636px,#d45714 1636px 1773px,#d35514 1773px 1863px)"></i><i style="top:1146px;height:9px;background:linear-gradient(90deg,#e3bb60 0px 46px,#e2b656 46px 228px,#e2b04c 228px 273px,#e3ac44 273px 455px,#e3a83c 455px 500px,#e3a739 500px 546px,#e3a537 546px 591px,#e3a336 591px 637px,#e29e31 637px 682px,#e19b2e 682px 773px,#e09429 773px 818px,#df8f24 818px 909px,#df8c22 909px 955px,#df8b21 955px 1000px,#df8a20 1000px 1046px,#de881e 1046px 1091px,#de851c 1091px 1136px,#de831c 1136px 1182px,#dd801b 1182px 1227px,#dd7d1a 1227px 1273px,#dc7a19 1273px 1318px,#dc7618 1318px 1364px,#db7217 1364px 1409px,#da6d16 1409px 1454px,#da6b16 1454px 1500px,#d86615 1500px 1545px,#d86415 1545px 1591px,#d86114 1591px 1636px,#d65c13 1636px 1773px,#d65a13 1773px 1818px,#d55813 1818px 1863px)"></i><i style="top:1155px;height:10px;background:linear-gradient(90deg,#d75f14 0px 46px,#d75e14 46px 91px,#d75d13 91px 137px,#d65c13 137px 182px,#d65b13 182px 228px,#d65a13 228px 273px,#d55913 273px 318px,#d55813 318px 364px,#d45714 364px 409px,#d45614 409px 455px,#d35514 455px 546px,#d35414 546px 591px,#d25415 591px 682px,#d04f16 682px 909px,#cd4a17 909px 955px,#cb4918 955px 1000px,#ca4719 1000px 1046px,#c8461a 1046px 1091px,#c6441b 1091px 1136px,#c3421e 1136px 1182px,#c1401f 1182px 1227px,#bf3f20 1227px 1364px,#ba3b23 1364px 1545px,#b53626 1545px 1591px,#b03229 1591px 1682px,#ab2e2c 1682px 1863px)"></i><i style="top:1165px;height:9px;background:linear-gradient(90deg,#240b35 0px 46px,#230b35 46px 137px,#230b34 137px 364px,#230b35 364px 455px,#240b35 455px 500px,#250b38 500px 546px,#260c3a 546px 591px,#280c3c 591px 637px,#290c3e 637px 682px,#2a0d40 682px 909px,#300e4a 909px 1136px,#2d0d44 1136px 1182px,#2b0d42 1182px 1227px,#2a0d40 1227px 1273px,#2f0e48 1273px 1318px,#310e4a 1318px 1364px,#360f4a 1364px 1591px,#381049 1591px 1773px,#3a1049 1773px 1863px)"></i><i style="top:1174px;height:10px;background:linear-gradient(90deg,#100515 0px 46px,#13061a 46px 455px,#16071e 455px 682px,#180721 682px 1273px,#1f092d 1273px 1364px,#220a32 1364px 1773px,#250b38 1773px 1863px)"></i><i style="top:1184px;height:10px;background:linear-gradient(90deg,#5a184a 0px 91px,#59184a 91px 182px,#58184a 182px 273px,#561749 273px 682px,#521649 682px 909px,#4e1649 909px 955px,#4e1648 955px 1000px,#4d1648 1000px 1046px,#4c1548 1046px 1091px,#4b1548 1091px 1136px,#4a1548 1136px 1182px,#491548 1182px 1227px,#481548 1227px 1591px,#471448 1591px 1863px)"></i><i style="top:1194px;height:9px;background:linear-gradient(90deg,#220a32 0px 682px,#1d092a 682px 1591px,#1c0928 1591px 1863px)"></i><i style="top:1203px;height:10px;background:linear-gradient(90deg,#5e194a 0px 46px,#5d194a 46px 182px,#5c194a 182px 228px,#5c184a 228px 273px,#58184a 273px 318px,#57174a 318px 364px,#561749 364px 409px,#551749 409px 455px,#541749 455px 500px,#531749 500px 546px,#521749 546px 591px,#521649 591px 637px,#4e1649 637px 682px,#4a1548 682px 818px,#481548 818px 909px,#421349 909px 955px,#401249 955px 1000px,#3f1249 1000px 1046px,#3c1149 1046px 1091px,#3a1049 1091px 1136px,#381049 1136px 1182px,#371049 1182px 1227px,#360f4a 1227px 1273px,#340f4a 1273px 1364px,#310e4a 1364px 1500px,#2f0e48 1500px 1591px,#2a0d40 1591px 1773px,#280c3c 1773px 1863px)"></i><i style="top:1213px;height:9px;background:#260c3a"></i><i style="top:1222px;height:10px;background:#ae312a"></i><i style="top:1232px;height:9px;background:linear-gradient(90deg,#521649 0px 46px,#511649 46px 228px,#501649 228px 637px,#521649 637px 1273px,#541749 1273px 1863px)"></i><i style="top:1241px;height:10px;background:linear-gradient(90deg,#030103 0px 637px,#010001 637px 1863px)"></i><i style="top:1251px;height:9px;background:linear-gradient(90deg,#290c3e 0px 46px,#240b35 46px 1273px,#220a32 1273px 1863px)"></i><i style="top:1260px;height:10px;background:linear-gradient(90deg,#471448 0px 364px,#481448 364px 455px,#481548 455px 500px,#491548 500px 591px,#4a1548 591px 682px,#4c1548 682px 1364px,#501649 1364px 1863px)"></i><i style="top:1270px;height:10px;background:linear-gradient(90deg,#471448 0px 500px,#461448 500px 546px,#451448 546px 591px,#441348 591px 682px,#421349 682px 909px,#3f1249 909px 955px,#3e1149 955px 1000px,#3d1149 1000px 1046px,#3c1149 1046px 1091px,#3b1149 1091px 1136px,#3a1049 1136px 1182px,#391049 1182px 1227px,#381049 1227px 1364px,#340f4a 1364px 1863px)"></i></div>
<div id="cb"></div>
<svg width="2588" height="1600" viewBox="0 0 2588 1600"><line x1="313" y1="1375" x2="2173" y2="1375" class="g"/><line x1="313" y1="1321" x2="2173" y2="1321" class="g"/><line x1="313" y1="1274" x2="2173" y2="1274" class="g"/><line x1="313" y1="1232" x2="2173" y2="1232" class="g"/><line x1="313" y1="1195" x2="2173" y2="1195" class="g"/><line x1="313" y1="951" x2="2173" y2="951" class="g"/><line x1="313" y1="808" x2="2173" y2="808" class="g"/><line x1="313" y1="706" x2="2173" y2="706" class="g"/><line x1="313" y1="627" x2="2173" y2="627" class="g"/><line x1="313" y1="563" x2="2173" y2="563" class="g"/><line x1="313" y1="509" x2="2173" y2="509" class="g"/><line x1="313" y1="462" x2="2173" y2="462" class="g"/><line x1="313" y1="420" x2="2173" y2="420" class="g"/><line x1="313" y1="383" x2="2173" y2="383" class="g"/><line x1="310" y1="161" x2="310" y2="1440" class="g"/><line x1="537" y1="161" x2="537" y2="1440" class="g"/><line x1="764" y1="161" x2="764" y2="1440" class="g"/><line x1="991" y1="161" x2="991" y2="1440" class="g"/><line x1="1219" y1="161" x2="1219" y2="1440" class="g"/><line x1="1446" y1="161" x2="1446" y2="1440" class="g"/><line x1="1673" y1="161" x2="1673" y2="1440" class="g"/><line x1="1900" y1="161" x2="1900" y2="1440" class="g"/><line x1="2128" y1="161" x2="2128" y2="1440" class="g"/><line x1="310" y1="1375.5" x2="341" y2="1375.5" class="t"/><line x1="310" y1="1321.5" x2="341" y2="1321.5" class="t"/><line x1="310" y1="1274.5" x2="341" y2="1274.5" class="t"/><line x1="310" y1="1232.5" x2="341" y2="1232.5" class="t"/><line x1="310" y1="1195.5" x2="373" y2="1195.5" class="t"/><line x1="310" y1="951.5" x2="341" y2="951.5" class="t"/><line x1="310" y1="808.5" x2="341" y2="808.5" class="t"/><line x1="310" y1="706.5" x2="341" y2="706.5" class="t"/><line x1="310" y1="627.5" x2="341" y2="627.5" class="t"/><line x1="310" y1="563.5" x2="341" y2="563.5" class="t"/><line x1="310" y1="509.5" x2="341" y2="509.5" class="t"/><line x1="310" y1="462.5" x2="341" y2="462.5" class="t"/><line x1="310" y1="420.5" x2="341" y2="420.5" class="t"/><line x1="310" y1="383.5" x2="373" y2="383.5" class="t"/><line x1="310.5" y1="1405" x2="310.5" y2="1441" class="t"/><line x1="355.5" y1="1422" x2="355.5" y2="1441" class="t"/><line x1="401.5" y1="1422" x2="401.5" y2="1441" class="t"/><line x1="446.5" y1="1422" x2="446.5" y2="1441" class="t"/><line x1="492.5" y1="1422" x2="492.5" y2="1441" class="t"/><line x1="537.5" y1="1405" x2="537.5" y2="1441" class="t"/><line x1="583.5" y1="1422" x2="583.5" y2="1441" class="t"/><line x1="628.5" y1="1422" x2="628.5" y2="1441" class="t"/><line x1="673.5" y1="1422" x2="673.5" y2="1441" class="t"/><line x1="719.5" y1="1422" x2="719.5" y2="1441" class="t"/><line x1="764.5" y1="1405" x2="764.5" y2="1441" class="t"/><line x1="810.5" y1="1422" x2="810.5" y2="1441" class="t"/><line x1="855.5" y1="1422" x2="855.5" y2="1441" class="t"/><line x1="901.5" y1="1422" x2="901.5" y2="1441" class="t"/><line x1="946.5" y1="1422" x2="946.5" y2="1441" class="t"/><line x1="991.5" y1="1405" x2="991.5" y2="1441" class="t"/><line x1="1037.5" y1="1422" x2="1037.5" y2="1441" class="t"/><line x1="1082.5" y1="1422" x2="1082.5" y2="1441" class="t"/><line x1="1128.5" y1="1422" x2="1128.5" y2="1441" class="t"/><line x1="1173.5" y1="1422" x2="1173.5" y2="1441" class="t"/><line x1="1219.5" y1="1405" x2="1219.5" y2="1441" class="t"/><line x1="1264.5" y1="1422" x2="1264.5" y2="1441" class="t"/><line x1="1310.5" y1="1422" x2="1310.5" y2="1441" class="t"/><line x1="1355.5" y1="1422" x2="1355.5" y2="1441" class="t"/><line x1="1400.5" y1="1422" x2="1400.5" y2="1441" class="t"/><line x1="1446.5" y1="1405" x2="1446.5" y2="1441" class="t"/><line x1="1491.5" y1="1422" x2="1491.5" y2="1441" class="t"/><line x1="1537.5" y1="1422" x2="1537.5" y2="1441" class="t"/><line x1="1582.5" y1="1422" x2="1582.5" y2="1441" class="t"/><line x1="1628.5" y1="1422" x2="1628.5" y2="1441" class="t"/><line x1="1673.5" y1="1405" x2="1673.5" y2="1441" class="t"/><line x1="1719.5" y1="1422" x2="1719.5" y2="1441" class="t"/><line x1="1764.5" y1="1422" x2="1764.5" y2="1441" class="t"/><line x1="1809.5" y1="1422" x2="1809.5" y2="1441" class="t"/><line x1="1855.5" y1="1422" x2="1855.5" y2="1441" class="t"/><line x1="1900.5" y1="1405" x2="1900.5" y2="1441" class="t"/><line x1="1946.5" y1="1422" x2="1946.5" y2="1441" class="t"/><line x1="1991.5" y1="1422" x2="1991.5" y2="1441" class="t"/><line x1="2037.5" y1="1422" x2="2037.5" y2="1441" class="t"/><line x1="2082.5" y1="1422" x2="2082.5" y2="1441" class="t"/><line x1="2128.5" y1="1405" x2="2128.5" y2="1441" class="t"/><line x1="2173.5" y1="1422" x2="2173.5" y2="1441" class="t"/><line x1="310.5" y1="160" x2="310.5" y2="1441" class="t"/><line x1="310" y1="1440.5" x2="2174" y2="1440.5" class="t"/><line x1="2241" y1="1423.5" x2="2303" y2="1423.5" class="c"/><line x1="2241" y1="1290.5" x2="2303" y2="1290.5" class="c"/><line x1="2241" y1="1157.5" x2="2303" y2="1157.5" class="c"/><line x1="2241" y1="1024.5" x2="2303" y2="1024.5" class="c"/><line x1="2241" y1="891.5" x2="2303" y2="891.5" class="c"/><line x1="2241" y1="758.5" x2="2303" y2="758.5" class="c"/><line x1="2241" y1="625.5" x2="2303" y2="625.5" class="c"/><line x1="2241" y1="493.5" x2="2303" y2="493.5" class="c"/><line x1="2241" y1="360.5" x2="2303" y2="360.5" class="c"/><line x1="2241" y1="227.5" x2="2303" y2="227.5" class="c"/></svg>
<div class="l" id="title" style="left:947px;text-align:left;top:8px;font-size:79px;line-height:90px;height:90px;letter-spacing:-0.5px"><span class="gk">ξ</span>(<span class="gk">δ</span> t, f), Q <span style="position:relative;top:5px">=</span> 38.0731</div>
<div class="l yl" style="top:358.8px">10<sup>3</sup></div>
<div class="l yl" style="top:539.0px">6<svg width="26" height="18" viewBox="0 0 26 18"><path d="M0.5 0.5L25.5 17.5M0.5 17.5L25.5 0.5" stroke="#ece4c8" stroke-width="2.6" fill="none"/></svg><span style="letter-spacing:-1px">10</span><sup>2</sup></div>
<div class="l yl" style="top:603.3px">5<svg width="26" height="18" viewBox="0 0 26 18"><path d="M0.5 0.5L25.5 17.5M0.5 17.5L25.5 0.5" stroke="#ece4c8" stroke-width="2.6" fill="none"/></svg><span style="letter-spacing:-1px">10</span><sup>2</sup></div>
<div class="l yl" style="top:682.0px">4<svg width="26" height="18" viewBox="0 0 26 18"><path d="M0.5 0.5L25.5 17.5M0.5 17.5L25.5 0.5" stroke="#ece4c8" stroke-width="2.6" fill="none"/></svg><span style="letter-spacing:-1px">10</span><sup>2</sup></div>
<div class="l yl" style="top:783.5px">3<svg width="26" height="18" viewBox="0 0 26 18"><path d="M0.5 0.5L25.5 17.5M0.5 17.5L25.5 0.5" stroke="#ece4c8" stroke-width="2.6" fill="none"/></svg><span style="letter-spacing:-1px">10</span><sup>2</sup></div>
<div class="l yl" style="top:926.6px">2<svg width="26" height="18" viewBox="0 0 26 18"><path d="M0.5 0.5L25.5 17.5M0.5 17.5L25.5 0.5" stroke="#ece4c8" stroke-width="2.6" fill="none"/></svg><span style="letter-spacing:-1px">10</span><sup>2</sup></div>
<div class="l yl" style="top:1171.1px">10<sup>2</sup></div>
<div class="l yl" style="top:1291.2px;right:2296px">70</div>
<div class="l yl" style="top:1345.6px;right:2296px">60</div>
<div class="l xl" style="left:310.4px">0.025</div>
<div class="l xl" style="left:537.6px">0.03</div>
<div class="l xl" style="left:764.8px">0.035</div>
<div class="l xl" style="left:992.0px">0.04</div>
<div class="l xl" style="left:1219.2px">0.045</div>
<div class="l xl" style="left:1446.4px">0.05</div>
<div class="l xl" style="left:1673.6px">0.055</div>
<div class="l xl" style="left:1900.8px">0.06</div>
<div class="l xl" style="left:2128.0px">0.065</div>
<div class="l" id="xt" style="right:410px;top:1495px;text-align:right;letter-spacing:-0.27px">Time delay: t(L1) - t(H1) [s]</div>
<div class="l cl" style="top:1393.3px"><span class="mn"></span>0.1</div>
<div class="l cl" style="top:1260.4px">0</div>
<div class="l cl" style="top:1127.5px">0.1</div>
<div class="l cl" style="top:994.6px">0.2</div>
<div class="l cl" style="top:861.8px">0.3</div>
<div class="l cl" style="top:728.9px">0.4</div>
<div class="l cl" style="top:596.0px">0.5</div>
<div class="l cl" style="top:463.1px">0.6</div>
<div class="l cl" style="top:330.3px">0.7</div>
<div class="l cl" style="top:197.4px">0.8</div>
<div class="l rot" id="yt" style="left:110.5px;top:757px;width:600px;letter-spacing:-0.5px">Frequency [Hz]</div>
<div class="l rot" id="ct" style="left:2415px;top:759px;width:600px;letter-spacing:-0.3px">Cross-correlation <span class="gk">ξ</span></div>
</body></html>
